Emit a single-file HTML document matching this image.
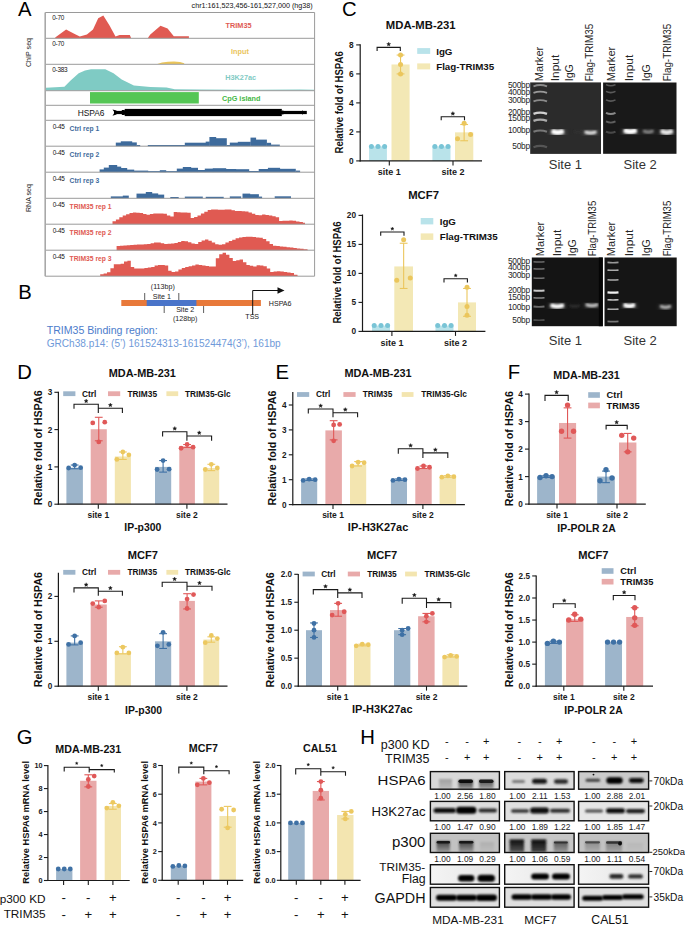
<!DOCTYPE html>
<html><head><meta charset="utf-8"><style>
html,body{margin:0;padding:0;background:#fff;}
svg{display:block;font-family:"Liberation Sans", sans-serif;}
</style></head><body>
<svg width="685" height="926" viewBox="0 0 685 926">
<defs>
<filter id="b1" x="-50%" y="-200%" width="200%" height="500%"><feGaussianBlur stdDeviation="0.8"/></filter>
<filter id="b2" x="-50%" y="-200%" width="200%" height="500%"><feGaussianBlur stdDeviation="1.3"/></filter>
<filter id="b3" x="-50%" y="-200%" width="200%" height="500%"><feGaussianBlur stdDeviation="2"/></filter>
<filter id="bs" x="-50%" y="-200%" width="200%" height="500%"><feGaussianBlur stdDeviation="0.6"/></filter>
</defs>
<polygon points="55.2,38.3 55.2,37.6 66.1,29.4 74.7,34.1 79.8,36.6 86.9,34.5 93.0,29.4 98.2,18.2 103.3,15.5 109.4,25.3 115.5,36.6 119.6,34.9 129.8,34.9 130.9,37.6 130.9,38.3" fill="#e05a52" />
<polygon points="148.2,38.3 148.2,37.6 150.3,34.5 160.5,25.7 167.6,28.4 173.8,36.2 188.9,36.2 188.9,38.3" fill="#e05a52" />
<polygon points="157.4,64.0 162.0,62.6 168.0,61.8 174.0,61.5 180.0,62.0 184.2,63.2 184.2,64.0" fill="#eac55a" />
<polygon points="46.0,90.5 46.0,87.8 64.4,86.8 70.6,80.4 78.7,73.3 85.0,70.5 91.0,69.2 105.3,69.2 113.5,73.3 121.7,79.4 133.9,85.5 150.3,87.0 166.6,87.6 174.8,89.2 200.0,89.6 240.0,89.8 300.0,89.6 314.0,89.8 314.0,90.5" fill="#7fcbc4" />
<rect x="90.00" y="92.10" width="108.80" height="11.40" fill="#55c655" />
<rect x="124.70" y="108.90" width="157.10" height="7.20" fill="#000" />
<rect x="114.00" y="110.90" width="192.80" height="3.20" fill="#000" />
<polygon points="112.5,109.4 116.5,110.6 116.5,114.4 112.5,115.8 114.6,112.5" fill="#000" />
<polygon points="121.5,110.0 124.8,110.0 124.8,115.0 121.5,115.0 123.0,112.5" fill="#000" />
<polygon points="282.5,110.0 285.5,112.5 282.5,115.0" fill="#000" />
<polygon points="302.0,110.2 305.0,112.5 302.0,114.8" fill="#000" />
<polygon points="115.8,146.2 115.8,142.6 121.2,142.6 121.2,146.2" fill="#3e6b9c" />
<polygon points="120.8,146.2 120.8,141.3 132.2,141.3 132.2,146.2" fill="#3e6b9c" />
<polygon points="131.8,146.2 131.8,142.4 136.8,142.4 136.8,146.2" fill="#3e6b9c" />
<polygon points="136.5,146.2 136.5,145.0 140.2,145.0 140.2,146.2" fill="#3e6b9c" />
<polygon points="147.8,146.2 147.8,145.1 185.1,145.1 185.1,146.2" fill="#3e6b9c" />
<polygon points="184.8,146.2 184.8,142.7 206.0,142.7 206.0,146.2" fill="#3e6b9c" />
<polygon points="205.7,146.2 205.7,141.6 209.8,141.6 209.8,146.2" fill="#3e6b9c" />
<polygon points="209.4,146.2 209.4,137.0 216.2,137.0 216.2,146.2" fill="#3e6b9c" />
<polygon points="215.8,146.2 215.8,138.2 226.8,138.2 226.8,146.2" fill="#3e6b9c" />
<polygon points="226.5,146.2 226.5,145.0 230.1,145.0 230.1,146.2" fill="#3e6b9c" />
<polygon points="229.8,146.2 229.8,142.6 238.2,142.6 238.2,146.2" fill="#3e6b9c" />
<polygon points="237.8,146.2 237.8,141.8 250.8,141.8 250.8,146.2" fill="#3e6b9c" />
<polygon points="250.5,146.2 250.5,137.6 256.1,137.6 256.1,146.2" fill="#3e6b9c" />
<polygon points="255.8,146.2 255.8,139.6 266.9,139.6 266.9,146.2" fill="#3e6b9c" />
<polygon points="266.7,146.2 266.7,142.8 271.1,142.8 271.1,146.2" fill="#3e6b9c" />
<polygon points="270.9,146.2 270.9,144.6 279.8,144.6 279.8,146.2" fill="#3e6b9c" />
<polygon points="99.6,172.2 99.6,169.4 104.2,169.4 104.2,172.2" fill="#3e6b9c" />
<polygon points="103.8,172.2 103.8,167.6 109.2,167.6 109.2,172.2" fill="#3e6b9c" />
<polygon points="108.8,172.2 108.8,165.0 117.2,165.0 117.2,172.2" fill="#3e6b9c" />
<polygon points="116.8,172.2 116.8,166.6 121.2,166.6 121.2,172.2" fill="#3e6b9c" />
<polygon points="120.8,172.2 120.8,168.0 127.2,168.0 127.2,172.2" fill="#3e6b9c" />
<polygon points="126.9,172.2 126.9,169.6 134.2,169.6 134.2,172.2" fill="#3e6b9c" />
<polygon points="133.8,172.2 133.8,170.6 148.2,170.6 148.2,172.2" fill="#3e6b9c" />
<polygon points="147.8,172.2 147.8,171.1 177.1,171.1 177.1,172.2" fill="#3e6b9c" />
<polygon points="159.8,172.2 159.8,170.2 166.2,170.2 166.2,172.2" fill="#3e6b9c" />
<polygon points="176.8,172.2 176.8,168.6 183.2,168.6 183.2,172.2" fill="#3e6b9c" />
<polygon points="182.8,172.2 182.8,167.0 191.2,167.0 191.2,172.2" fill="#3e6b9c" />
<polygon points="190.8,172.2 190.8,167.8 198.0,167.8 198.0,172.2" fill="#3e6b9c" />
<polygon points="197.7,172.2 197.7,170.0 205.2,170.0 205.2,172.2" fill="#3e6b9c" />
<polygon points="204.8,172.2 204.8,168.6 213.2,168.6 213.2,172.2" fill="#3e6b9c" />
<polygon points="212.8,172.2 212.8,168.2 226.2,168.2 226.2,172.2" fill="#3e6b9c" />
<polygon points="225.8,172.2 225.8,169.0 236.2,169.0 236.2,172.2" fill="#3e6b9c" />
<polygon points="235.8,172.2 235.8,169.2 249.2,169.2 249.2,172.2" fill="#3e6b9c" />
<polygon points="248.9,172.2 248.9,171.0 258.9,171.0 258.9,172.2" fill="#3e6b9c" />
<polygon points="258.7,172.2 258.7,169.0 268.1,169.0 268.1,172.2" fill="#3e6b9c" />
<polygon points="267.9,172.2 267.9,167.8 280.1,167.8 280.1,172.2" fill="#3e6b9c" />
<polygon points="279.9,172.2 279.9,168.8 295.8,168.8 295.8,172.2" fill="#3e6b9c" />
<polygon points="295.6,172.2 295.6,170.6 300.1,170.6 300.1,172.2" fill="#3e6b9c" />
<polygon points="110.8,198.3 110.8,196.4 123.2,196.4 123.2,198.3" fill="#3e6b9c" />
<polygon points="122.8,198.3 122.8,195.6 128.8,195.6 128.8,198.3" fill="#3e6b9c" />
<polygon points="136.5,198.3 136.5,193.6 146.2,193.6 146.2,198.3" fill="#3e6b9c" />
<polygon points="145.8,198.3 145.8,192.0 152.2,192.0 152.2,198.3" fill="#3e6b9c" />
<polygon points="151.8,198.3 151.8,193.4 158.2,193.4 158.2,198.3" fill="#3e6b9c" />
<polygon points="157.8,198.3 157.8,194.6 164.2,194.6 164.2,198.3" fill="#3e6b9c" />
<polygon points="170.3,198.3 170.3,197.0 178.7,197.0 178.7,198.3" fill="#3e6b9c" />
<polygon points="184.8,198.3 184.8,196.6 202.8,196.6 202.8,198.3" fill="#3e6b9c" />
<polygon points="205.7,198.3 205.7,196.8 223.7,196.8 223.7,198.3" fill="#3e6b9c" />
<polygon points="229.8,198.3 229.8,196.4 241.2,196.4 241.2,198.3" fill="#3e6b9c" />
<polygon points="242.5,198.3 242.5,193.6 250.2,193.6 250.2,198.3" fill="#3e6b9c" />
<polygon points="249.8,198.3 249.8,194.2 258.9,194.2 258.9,198.3" fill="#3e6b9c" />
<polygon points="258.7,198.3 258.7,196.6 262.1,196.6 262.1,198.3" fill="#3e6b9c" />
<polygon points="274.7,198.3 274.7,196.3 291.0,196.3 291.0,198.3" fill="#3e6b9c" />
<polygon points="112.5,224.2 112.5,221.3 115.9,221.3 115.9,219.4 119.3,219.4 119.3,217.3 122.7,217.3 122.7,215.6 126.1,215.6 126.1,214.2 129.5,214.2 129.5,212.9 132.9,212.9 132.9,212.4 136.3,212.4 136.3,212.7 139.7,212.7 139.7,213.1 143.1,213.1 143.1,214.0 146.5,214.0 146.5,214.8 149.9,214.8 149.9,213.9 153.3,213.9 153.3,213.4 156.7,213.4 156.7,213.4 160.1,213.4 160.1,213.4 163.5,213.4 163.5,213.7 166.9,213.7 166.9,215.4 170.3,215.4 170.3,216.5 173.7,216.5 173.7,212.1 177.1,212.1 177.1,212.3 180.5,212.3 180.5,212.4 183.9,212.4 183.9,212.6 187.3,212.6 187.3,212.8 190.7,212.8 190.7,217.9 194.1,217.9 194.1,216.9 197.5,216.9 197.5,215.4 200.9,215.4 200.9,213.4 204.3,213.4 204.3,211.7 207.7,211.7 207.7,210.0 211.1,210.0 211.1,209.4 214.5,209.4 214.5,209.6 217.9,209.6 217.9,209.8 221.3,209.8 221.3,209.8 224.7,209.8 224.7,209.5 228.1,209.5 228.1,209.6 231.5,209.6 231.5,210.3 234.9,210.3 234.9,210.9 238.3,210.9 238.3,211.0 241.7,211.0 241.7,211.2 245.1,211.2 245.1,211.4 248.5,211.4 248.5,212.6 251.9,212.6 251.9,213.8 255.3,213.8 255.3,215.1 258.7,215.1 258.7,215.3 262.1,215.3 262.1,214.5 265.5,214.5 265.5,214.9 268.9,214.9 268.9,215.4 272.3,215.4 272.3,216.3 275.7,216.3 275.7,217.3 279.1,217.3 279.1,220.9 282.5,220.9 282.5,220.8 285.9,220.8 285.9,220.7 289.3,220.7 289.3,220.6 292.7,220.6 292.7,220.7 296.1,220.7 296.1,221.4 299.5,221.4 299.5,222.1 302.9,222.1 302.9,222.8 305.0,222.8 305.0,224.2" fill="#e05a52" />
<polygon points="116.6,250.2 116.6,246.0 120.0,246.0 120.0,245.7 123.4,245.7 123.4,245.5 126.8,245.5 126.8,245.2 130.2,245.2 130.2,245.0 133.6,245.0 133.6,244.7 137.0,244.7 137.0,244.5 140.4,244.5 140.4,244.4 143.8,244.4 143.8,244.2 147.2,244.2 147.2,244.0 150.6,244.0 150.6,243.3 154.0,243.3 154.0,242.4 157.4,242.4 157.4,242.4 160.8,242.4 160.8,243.2 164.2,243.2 164.2,244.0 167.6,244.0 167.6,243.8 171.0,243.8 171.0,243.5 174.4,243.5 174.4,243.0 177.8,243.0 177.8,242.0 181.2,242.0 181.2,240.9 184.6,240.9 184.6,241.2 188.0,241.2 188.0,242.2 191.4,242.2 191.4,243.6 194.8,243.6 194.8,244.0 198.2,244.0 198.2,242.0 201.6,242.0 201.6,240.5 205.0,240.5 205.0,239.6 208.4,239.6 208.4,240.7 211.8,240.7 211.8,242.6 215.2,242.6 215.2,244.2 218.6,244.2 218.6,244.7 222.0,244.7 222.0,244.2 225.4,244.2 225.4,242.5 228.8,242.5 228.8,241.0 232.2,241.0 232.2,239.7 235.6,239.7 235.6,238.3 239.0,238.3 239.0,237.6 242.4,237.6 242.4,237.1 245.8,237.1 245.8,236.7 249.2,236.7 249.2,236.7 252.6,236.7 252.6,237.1 256.0,237.1 256.0,237.4 259.4,237.4 259.4,237.7 262.8,237.7 262.8,239.0 266.2,239.0 266.2,241.3 269.6,241.3 269.6,244.0 273.0,244.0 273.0,245.7 276.4,245.7 276.4,246.1 279.8,246.1 279.8,246.4 283.2,246.4 283.2,246.8 286.6,246.8 286.6,247.2 290.0,247.2 290.0,247.6 293.4,247.6 293.4,248.0 296.8,248.0 296.8,248.4 300.2,248.4 300.2,248.8 303.6,248.8 303.6,249.2 307.0,249.2 307.0,249.4 307.8,249.4 307.8,250.2" fill="#e05a52" />
<polygon points="100.2,276.0 100.2,274.3 103.6,274.3 103.6,273.4 107.0,273.4 107.0,272.2 110.4,272.2 110.4,268.3 113.8,268.3 113.8,264.3 117.2,264.3 117.2,264.2 120.6,264.2 120.6,263.7 124.0,263.7 124.0,261.6 127.4,261.6 127.4,260.8 130.8,260.8 130.8,267.0 134.2,267.0 134.2,268.6 137.6,268.6 137.6,268.6 141.0,268.6 141.0,268.5 144.4,268.5 144.4,268.0 147.8,268.0 147.8,267.5 151.2,267.5 151.2,266.9 154.6,266.9 154.6,265.5 158.0,265.5 158.0,264.9 161.4,264.9 161.4,264.9 164.8,264.9 164.8,265.6 168.2,265.6 168.2,270.7 171.6,270.7 171.6,272.0 175.0,272.0 175.0,271.5 178.4,271.5 178.4,269.6 181.8,269.6 181.8,268.0 185.2,268.0 185.2,267.1 188.6,267.1 188.6,266.3 192.0,266.3 192.0,265.4 195.4,265.4 195.4,264.6 198.8,264.6 198.8,265.0 202.2,265.0 202.2,265.6 205.6,265.6 205.6,266.1 209.0,266.1 209.0,266.6 212.4,266.6 212.4,266.4 215.8,266.4 215.8,258.3 219.2,258.3 219.2,254.3 222.6,254.3 222.6,252.8 226.0,252.8 226.0,254.8 229.4,254.8 229.4,258.0 232.8,258.0 232.8,261.0 236.2,261.0 236.2,260.3 239.6,260.3 239.6,259.6 243.0,259.6 243.0,262.3 246.4,262.3 246.4,264.9 249.8,264.9 249.8,265.7 253.2,265.7 253.2,266.4 256.6,266.4 256.6,265.3 260.0,265.3 260.0,265.6 263.4,265.6 263.4,266.2 266.8,266.2 266.8,268.6 270.2,268.6 270.2,271.9 273.6,271.9 273.6,271.6 277.0,271.6 277.0,271.2 280.4,271.2 280.4,271.6 283.8,271.6 283.8,272.1 287.2,272.1 287.2,272.6 290.6,272.6 290.6,273.1 294.0,273.1 294.0,274.7 297.4,274.7 297.4,275.2 297.6,275.2 297.6,276.0" fill="#e05a52" />
<line x1="45.20" y1="38.30" x2="314.60" y2="38.30" stroke="#9a9a9a" stroke-width="1" />
<line x1="45.20" y1="64.30" x2="314.60" y2="64.30" stroke="#9a9a9a" stroke-width="1" />
<line x1="45.20" y1="90.70" x2="314.60" y2="90.70" stroke="#9a9a9a" stroke-width="1" />
<line x1="45.20" y1="105.30" x2="314.60" y2="105.30" stroke="#9a9a9a" stroke-width="1" />
<line x1="45.20" y1="120.30" x2="314.60" y2="120.30" stroke="#9a9a9a" stroke-width="1" />
<line x1="45.20" y1="146.20" x2="314.60" y2="146.20" stroke="#9a9a9a" stroke-width="1" />
<line x1="45.20" y1="172.20" x2="314.60" y2="172.20" stroke="#9a9a9a" stroke-width="1" />
<line x1="45.20" y1="198.30" x2="314.60" y2="198.30" stroke="#9a9a9a" stroke-width="1" />
<line x1="45.20" y1="224.20" x2="314.60" y2="224.20" stroke="#9a9a9a" stroke-width="1" />
<line x1="45.20" y1="250.20" x2="314.60" y2="250.20" stroke="#9a9a9a" stroke-width="1" />
<line x1="45.20" y1="12.50" x2="314.60" y2="12.50" stroke="#9a9a9a" stroke-width="1" />
<line x1="45.20" y1="276.20" x2="314.60" y2="276.20" stroke="#9a9a9a" stroke-width="1" />
<line x1="45.20" y1="12.50" x2="45.20" y2="276.20" stroke="#a8a8a8" stroke-width="1.6" />
<line x1="314.60" y1="12.50" x2="314.60" y2="276.20" stroke="#9a9a9a" stroke-width="1" />
<text x="312.70" y="8.30" font-size="7.2" text-anchor="end" fill="#111" >chr1:161,523,456-161,527,000 (hg38)</text>
<text x="52.30" y="19.60" font-size="6.4" text-anchor="start" fill="#111" letter-spacing="-0.3">0-70</text>
<text x="52.30" y="45.60" font-size="6.4" text-anchor="start" fill="#111" letter-spacing="-0.3">0-70</text>
<text x="52.30" y="71.60" font-size="6.4" text-anchor="start" fill="#111" letter-spacing="-0.3">0-383</text>
<text x="52.80" y="129.40" font-size="6.4" text-anchor="start" fill="#111" letter-spacing="-0.3">0-45</text>
<text x="69.60" y="130.60" font-size="6.75" text-anchor="start" font-weight="bold" fill="#3e6b9c" >Ctrl rep 1</text>
<text x="52.80" y="155.30" font-size="6.4" text-anchor="start" fill="#111" letter-spacing="-0.3">0-45</text>
<text x="69.60" y="156.50" font-size="6.75" text-anchor="start" font-weight="bold" fill="#3e6b9c" >Ctrl rep 2</text>
<text x="52.80" y="181.30" font-size="6.4" text-anchor="start" fill="#111" letter-spacing="-0.3">0-45</text>
<text x="69.60" y="182.50" font-size="6.75" text-anchor="start" font-weight="bold" fill="#3e6b9c" >Ctrl rep 3</text>
<text x="52.80" y="207.40" font-size="6.4" text-anchor="start" fill="#111" letter-spacing="-0.3">0-45</text>
<text x="69.60" y="208.60" font-size="6.75" text-anchor="start" font-weight="bold" fill="#e05a52" >TRIM35 rep 1</text>
<text x="52.80" y="233.30" font-size="6.4" text-anchor="start" fill="#111" letter-spacing="-0.3">0-45</text>
<text x="69.60" y="234.50" font-size="6.75" text-anchor="start" font-weight="bold" fill="#e05a52" >TRIM35 rep 2</text>
<text x="52.80" y="259.30" font-size="6.4" text-anchor="start" fill="#111" letter-spacing="-0.3">0-45</text>
<text x="69.60" y="260.50" font-size="6.75" text-anchor="start" font-weight="bold" fill="#e05a52" >TRIM35 rep 3</text>
<text x="238.60" y="28.10" font-size="7.3" text-anchor="middle" font-weight="bold" fill="#e05a52" >TRIM35</text>
<text x="240.00" y="53.90" font-size="7.3" text-anchor="middle" font-weight="bold" fill="#eac55a" >Input</text>
<text x="240.70" y="79.80" font-size="7.3" text-anchor="middle" font-weight="bold" fill="#7fcbc4" >H3K27ac</text>
<text x="241.20" y="101.20" font-size="7.3" text-anchor="middle" font-weight="bold" fill="#44b844" >CpG island</text>
<text x="77.70" y="116.20" font-size="8.4" text-anchor="start" fill="#111" >HSPA6</text>
<text transform="translate(31.00,52.50) rotate(-90)" font-size="7.1" text-anchor="middle" fill="#222" >ChIP seq</text>
<text transform="translate(31.00,198.10) rotate(-90)" font-size="7.1" text-anchor="middle" fill="#222" >RNA seq</text>
<rect x="121.30" y="300.00" width="139.60" height="6.00" fill="#e8793a" />
<rect x="146.70" y="300.00" width="49.70" height="6.00" fill="#4a74c9" />
<line x1="144.70" y1="293.00" x2="144.70" y2="300.00" stroke="#333" stroke-width="0.8" />
<line x1="178.80" y1="293.00" x2="178.80" y2="300.00" stroke="#333" stroke-width="0.8" />
<line x1="164.20" y1="306.00" x2="164.20" y2="313.00" stroke="#333" stroke-width="0.8" />
<line x1="203.60" y1="306.00" x2="203.60" y2="313.00" stroke="#333" stroke-width="0.8" />
<line x1="252.70" y1="290.50" x2="252.70" y2="315.00" stroke="#111" stroke-width="1" />
<line x1="252.70" y1="290.50" x2="279.00" y2="290.50" stroke="#111" stroke-width="1" />
<polygon points="277.5,287.3 284.5,290.5 277.5,293.7" fill="#111" />
<text x="162.80" y="289.20" font-size="7.1" text-anchor="middle" fill="#222" >(113bp)</text>
<text x="161.80" y="298.50" font-size="7.1" text-anchor="middle" fill="#222" >Site 1</text>
<text x="185.20" y="312.20" font-size="7.1" text-anchor="middle" fill="#222" >Site 2</text>
<text x="185.20" y="320.80" font-size="7.1" text-anchor="middle" fill="#222" >(128bp)</text>
<text x="252.20" y="318.80" font-size="7.1" text-anchor="middle" fill="#222" >TSS</text>
<text x="268.80" y="306.00" font-size="7.1" text-anchor="start" fill="#222" >HSPA6</text>
<text x="46.70" y="334.30" font-size="11.8" text-anchor="start" fill="#4c7ccb" textLength="111" lengthAdjust="spacingAndGlyphs">TRIM35 Binding region:</text>
<text x="46.70" y="346.60" font-size="11.0" text-anchor="start" fill="#6f9ad9" textLength="234" lengthAdjust="spacingAndGlyphs">GRCh38.p14: (5’) 161524313-161524474(3’), 161bp</text>
<rect x="369.10" y="146.40" width="17.80" height="14.50" fill="#b9e3ea" />
<rect x="391.50" y="64.47" width="18.10" height="96.43" fill="#f3e8b5" />
<rect x="432.40" y="146.40" width="18.10" height="14.50" fill="#b9e3ea" />
<rect x="455.00" y="132.34" width="18.30" height="28.56" fill="#f3e8b5" />
<line x1="360.20" y1="44.20" x2="360.20" y2="161.50" stroke="#1a1a1a" stroke-width="1.2" />
<line x1="359.60" y1="160.90" x2="482.00" y2="160.90" stroke="#1a1a1a" stroke-width="1.2" />
<line x1="356.20" y1="160.90" x2="360.20" y2="160.90" stroke="#1a1a1a" stroke-width="1.1" />
<text x="353.70" y="163.89" font-size="8.3" text-anchor="end" font-weight="bold" fill="#1a1a1a" >0</text>
<line x1="356.20" y1="131.90" x2="360.20" y2="131.90" stroke="#1a1a1a" stroke-width="1.1" />
<text x="353.70" y="134.89" font-size="8.3" text-anchor="end" font-weight="bold" fill="#1a1a1a" >2</text>
<line x1="356.20" y1="102.90" x2="360.20" y2="102.90" stroke="#1a1a1a" stroke-width="1.1" />
<text x="353.70" y="105.89" font-size="8.3" text-anchor="end" font-weight="bold" fill="#1a1a1a" >4</text>
<line x1="356.20" y1="73.90" x2="360.20" y2="73.90" stroke="#1a1a1a" stroke-width="1.1" />
<text x="353.70" y="76.89" font-size="8.3" text-anchor="end" font-weight="bold" fill="#1a1a1a" >6</text>
<line x1="356.20" y1="44.90" x2="360.20" y2="44.90" stroke="#1a1a1a" stroke-width="1.1" />
<text x="353.70" y="47.89" font-size="8.3" text-anchor="end" font-weight="bold" fill="#1a1a1a" >8</text>
<line x1="389.30" y1="160.90" x2="389.30" y2="165.40" stroke="#1a1a1a" stroke-width="1.1" />
<text x="389.30" y="175.20" font-size="9" text-anchor="middle" font-weight="bold" fill="#1a1a1a" >site 1</text>
<line x1="453.00" y1="160.90" x2="453.00" y2="165.40" stroke="#1a1a1a" stroke-width="1.1" />
<text x="453.00" y="175.20" font-size="9" text-anchor="middle" font-weight="bold" fill="#1a1a1a" >site 2</text>
<circle cx="371.40" cy="146.40" r="2.5" fill="#79c4d6"/>
<circle cx="378.00" cy="146.40" r="2.5" fill="#79c4d6"/>
<circle cx="384.60" cy="146.40" r="2.5" fill="#79c4d6"/>
<line x1="400.55" y1="55.05" x2="400.55" y2="73.90" stroke="#ebc65c" stroke-width="1.1" />
<line x1="396.65" y1="55.05" x2="404.45" y2="55.05" stroke="#ebc65c" stroke-width="1.1" />
<line x1="396.65" y1="73.90" x2="404.45" y2="73.90" stroke="#ebc65c" stroke-width="1.1" />
<circle cx="400.55" cy="55.05" r="2.5" fill="#ebc65c"/>
<circle cx="400.55" cy="64.47" r="2.5" fill="#ebc65c"/>
<circle cx="400.55" cy="73.90" r="2.5" fill="#ebc65c"/>
<circle cx="434.85" cy="146.40" r="2.5" fill="#79c4d6"/>
<circle cx="441.45" cy="146.40" r="2.5" fill="#79c4d6"/>
<circle cx="448.05" cy="146.40" r="2.5" fill="#79c4d6"/>
<line x1="464.15" y1="124.51" x2="464.15" y2="140.75" stroke="#ebc65c" stroke-width="1.1" />
<line x1="460.25" y1="124.51" x2="468.05" y2="124.51" stroke="#ebc65c" stroke-width="1.1" />
<line x1="460.25" y1="140.75" x2="468.05" y2="140.75" stroke="#ebc65c" stroke-width="1.1" />
<circle cx="464.15" cy="123.20" r="2.5" fill="#ebc65c"/>
<circle cx="457.55" cy="138.86" r="2.5" fill="#ebc65c"/>
<circle cx="470.55" cy="134.51" r="2.5" fill="#ebc65c"/>
<path d="M377.10,50.90 V47.40 H400.30 V50.90" fill="none" stroke="#1a1a1a" stroke-width="1.1"/>
<polygon points="388.7,42.2 389.3,43.4 390.7,43.6 389.6,44.5 389.9,45.9 388.7,45.2 387.5,45.9 387.8,44.5 386.7,43.6 388.1,43.4" fill="#1a1a1a" stroke="#1a1a1a" stroke-width="0.35" stroke-linejoin="round"/>
<path d="M441.20,120.30 V116.80 H464.50 V120.30" fill="none" stroke="#1a1a1a" stroke-width="1.1"/>
<polygon points="452.9,111.6 453.4,112.8 454.8,113.0 453.8,113.9 454.1,115.3 452.9,114.6 451.6,115.3 451.9,113.9 450.9,113.0 452.3,112.8" fill="#1a1a1a" stroke="#1a1a1a" stroke-width="0.35" stroke-linejoin="round"/>
<text x="420.70" y="29.20" font-size="11.3" text-anchor="middle" font-weight="bold" fill="#111" >MDA-MB-231</text>
<text transform="translate(343.10,102.40) rotate(-90)" font-size="10.0" text-anchor="middle" font-weight="bold" fill="#111" textLength="102.2" lengthAdjust="spacingAndGlyphs">Relative fold of HSPA6</text>
<rect x="417.20" y="48.10" width="13.00" height="5.80" fill="#b9e3ea" />
<text x="436.20" y="54.51" font-size="9.75" text-anchor="start" font-weight="bold" fill="#111" >IgG</text>
<rect x="417.20" y="63.40" width="13.00" height="6.00" fill="#f3e8b5" />
<text x="436.20" y="69.91" font-size="9.75" text-anchor="start" font-weight="bold" fill="#111" >Flag-TRIM35</text>
<rect x="372.00" y="325.60" width="18.00" height="5.80" fill="#b9e3ea" />
<rect x="394.30" y="266.44" width="18.70" height="64.96" fill="#f3e8b5" />
<rect x="435.50" y="325.60" width="18.00" height="5.80" fill="#b9e3ea" />
<rect x="458.00" y="302.40" width="18.00" height="29.00" fill="#f3e8b5" />
<line x1="362.50" y1="214.50" x2="362.50" y2="332.00" stroke="#1a1a1a" stroke-width="1.2" />
<line x1="361.90" y1="331.40" x2="485.40" y2="331.40" stroke="#1a1a1a" stroke-width="1.2" />
<line x1="358.50" y1="331.40" x2="362.50" y2="331.40" stroke="#1a1a1a" stroke-width="1.1" />
<text x="356.00" y="334.39" font-size="8.3" text-anchor="end" font-weight="bold" fill="#1a1a1a" >0</text>
<line x1="358.50" y1="302.40" x2="362.50" y2="302.40" stroke="#1a1a1a" stroke-width="1.1" />
<text x="356.00" y="305.39" font-size="8.3" text-anchor="end" font-weight="bold" fill="#1a1a1a" >5</text>
<line x1="358.50" y1="273.40" x2="362.50" y2="273.40" stroke="#1a1a1a" stroke-width="1.1" />
<text x="356.00" y="276.39" font-size="8.3" text-anchor="end" font-weight="bold" fill="#1a1a1a" >10</text>
<line x1="358.50" y1="244.40" x2="362.50" y2="244.40" stroke="#1a1a1a" stroke-width="1.1" />
<text x="356.00" y="247.39" font-size="8.3" text-anchor="end" font-weight="bold" fill="#1a1a1a" >15</text>
<line x1="358.50" y1="215.40" x2="362.50" y2="215.40" stroke="#1a1a1a" stroke-width="1.1" />
<text x="356.00" y="218.39" font-size="8.3" text-anchor="end" font-weight="bold" fill="#1a1a1a" >20</text>
<line x1="391.90" y1="331.40" x2="391.90" y2="335.90" stroke="#1a1a1a" stroke-width="1.1" />
<text x="391.90" y="346.20" font-size="9" text-anchor="middle" font-weight="bold" fill="#1a1a1a" >site 1</text>
<line x1="455.50" y1="331.40" x2="455.50" y2="335.90" stroke="#1a1a1a" stroke-width="1.1" />
<text x="455.50" y="346.20" font-size="9" text-anchor="middle" font-weight="bold" fill="#1a1a1a" >site 2</text>
<circle cx="374.20" cy="325.60" r="2.5" fill="#79c4d6"/>
<circle cx="381.00" cy="325.60" r="2.5" fill="#79c4d6"/>
<circle cx="387.60" cy="325.60" r="2.5" fill="#79c4d6"/>
<line x1="403.65" y1="243.24" x2="403.65" y2="288.48" stroke="#ebc65c" stroke-width="1.1" />
<line x1="399.75" y1="243.24" x2="407.55" y2="243.24" stroke="#ebc65c" stroke-width="1.1" />
<line x1="399.75" y1="288.48" x2="407.55" y2="288.48" stroke="#ebc65c" stroke-width="1.1" />
<circle cx="403.65" cy="239.76" r="2.5" fill="#ebc65c"/>
<circle cx="396.75" cy="280.36" r="2.5" fill="#ebc65c"/>
<circle cx="410.25" cy="278.04" r="2.5" fill="#ebc65c"/>
<circle cx="437.70" cy="325.60" r="2.5" fill="#79c4d6"/>
<circle cx="444.50" cy="325.60" r="2.5" fill="#79c4d6"/>
<circle cx="451.10" cy="325.60" r="2.5" fill="#79c4d6"/>
<line x1="467.00" y1="288.48" x2="467.00" y2="316.32" stroke="#ebc65c" stroke-width="1.1" />
<line x1="463.10" y1="288.48" x2="470.90" y2="288.48" stroke="#ebc65c" stroke-width="1.1" />
<line x1="463.10" y1="316.32" x2="470.90" y2="316.32" stroke="#ebc65c" stroke-width="1.1" />
<circle cx="467.00" cy="287.32" r="2.5" fill="#ebc65c"/>
<circle cx="467.00" cy="306.46" r="2.5" fill="#ebc65c"/>
<circle cx="467.00" cy="315.16" r="2.5" fill="#ebc65c"/>
<path d="M380.70,235.80 V232.00 H404.00 V235.80" fill="none" stroke="#1a1a1a" stroke-width="1.1"/>
<polygon points="392.4,227.1 392.8,228.1 394.0,228.2 393.1,229.0 393.4,230.2 392.4,229.6 391.3,230.2 391.6,229.0 390.7,228.2 391.9,228.1" fill="#1a1a1a" stroke="#1a1a1a" stroke-width="0.35" stroke-linejoin="round"/>
<path d="M444.00,282.50 V278.70 H467.40 V282.50" fill="none" stroke="#1a1a1a" stroke-width="1.1"/>
<polygon points="455.7,273.8 456.2,274.8 457.3,274.9 456.5,275.7 456.7,276.9 455.7,276.3 454.7,276.9 454.9,275.7 454.1,274.9 455.2,274.8" fill="#1a1a1a" stroke="#1a1a1a" stroke-width="0.35" stroke-linejoin="round"/>
<text x="423.60" y="199.20" font-size="11.3" text-anchor="middle" font-weight="bold" fill="#111" >MCF7</text>
<text transform="translate(340.80,272.50) rotate(-90)" font-size="10.0" text-anchor="middle" font-weight="bold" fill="#111" textLength="102.2" lengthAdjust="spacingAndGlyphs">Relative fold of HSPA6</text>
<rect x="420.70" y="218.00" width="12.60" height="6.40" fill="#b9e3ea" />
<text x="439.70" y="224.71" font-size="9.75" text-anchor="start" font-weight="bold" fill="#111" >IgG</text>
<rect x="420.70" y="233.40" width="12.60" height="6.50" fill="#f3e8b5" />
<text x="439.70" y="240.16" font-size="9.75" text-anchor="start" font-weight="bold" fill="#111" >Flag-TRIM35</text>
<rect x="530.20" y="82.40" width="70.80" height="71.50" fill="#2b2b2b" />
<path d="M533.5,86.3 Q540.2,83.7 547.0,86.3" stroke="#8a8a8a" stroke-width="1.8" stroke-linecap="butt" fill="none" opacity="1" filter="url(#bs)"/>
<path d="M533.5,92.9 Q540.2,90.3 547.0,92.9" stroke="#9a9a9a" stroke-width="1.8" stroke-linecap="butt" fill="none" opacity="1" filter="url(#bs)"/>
<path d="M533.5,101.4 Q540.2,98.8 547.0,101.4" stroke="#8a8a8a" stroke-width="1.8" stroke-linecap="butt" fill="none" opacity="1" filter="url(#bs)"/>
<path d="M533.5,113.9 Q540.2,111.3 547.0,113.9" stroke="#d0d0d0" stroke-width="2.4" stroke-linecap="butt" fill="none" opacity="1" filter="url(#bs)"/>
<path d="M533.5,120.9 Q540.2,118.3 547.0,120.9" stroke="#aaaaaa" stroke-width="2.2" stroke-linecap="butt" fill="none" opacity="1" filter="url(#bs)"/>
<path d="M533.5,131.8 Q540.2,129.2 547.0,131.8" stroke="#777" stroke-width="2.2" stroke-linecap="butt" fill="none" opacity="1" filter="url(#bs)"/>
<path d="M533.5,147.2 Q540.2,144.6 547.0,147.2" stroke="#555" stroke-width="2.2" stroke-linecap="butt" fill="none" opacity="1" filter="url(#bs)"/>
<path d="M550.8,131.4 Q557.6,133.8 564.5,131.4" stroke="#ffffff" stroke-width="7.5" stroke-linecap="butt" fill="none" opacity="0.25" filter="url(#b3)"/>
<path d="M553.8,131.7 Q557.6,133.5 561.5,131.7" stroke="#ffffff" stroke-width="5" stroke-linecap="round" fill="none" opacity="1" filter="url(#b1)"/>
<path d="M583.8,131.8 Q590.5,134.2 597.3,131.8" stroke="#e8e8e8" stroke-width="5.3" stroke-linecap="butt" fill="none" opacity="0.25" filter="url(#b3)"/>
<path d="M585.7,132.1 Q590.5,133.9 595.4,132.1" stroke="#e8e8e8" stroke-width="2.8" stroke-linecap="round" fill="none" opacity="1" filter="url(#b1)"/>
<path d="M573.5,130.8 Q578.0,133.2 582.5,130.8" stroke="#333" stroke-width="4.0" stroke-linecap="butt" fill="none" opacity="0.25" filter="url(#b3)"/>
<path d="M574.8,131.1 Q578.0,132.9 581.2,131.1" stroke="#333" stroke-width="1.5" stroke-linecap="round" fill="none" opacity="1" filter="url(#b1)"/>
<rect x="603.10" y="82.50" width="73.40" height="71.30" fill="#191919" />
<path d="M606.0,84.6 Q610.8,87.0 615.5,84.6" stroke="#5a5a5a" stroke-width="1.6" stroke-linecap="butt" fill="none" opacity="1" filter="url(#bs)"/>
<path d="M606.0,91.4 Q610.8,93.8 615.5,91.4" stroke="#5a5a5a" stroke-width="1.6" stroke-linecap="butt" fill="none" opacity="1" filter="url(#bs)"/>
<path d="M606.0,99.9 Q610.8,102.3 615.5,99.9" stroke="#5a5a5a" stroke-width="1.6" stroke-linecap="butt" fill="none" opacity="1" filter="url(#bs)"/>
<path d="M606.0,112.8 Q610.8,115.2 615.5,112.8" stroke="#888" stroke-width="2" stroke-linecap="butt" fill="none" opacity="1" filter="url(#bs)"/>
<path d="M606.0,121.4 Q610.8,123.8 615.5,121.4" stroke="#5e5e5e" stroke-width="1.8" stroke-linecap="butt" fill="none" opacity="1" filter="url(#bs)"/>
<path d="M606.0,131.6 Q610.8,134.0 615.5,131.6" stroke="#4a4a4a" stroke-width="2" stroke-linecap="butt" fill="none" opacity="1" filter="url(#bs)"/>
<path d="M623.0,130.6 Q630.2,133.0 637.5,130.6" stroke="#ffffff" stroke-width="7.5" stroke-linecap="butt" fill="none" opacity="0.25" filter="url(#b3)"/>
<path d="M626.0,130.9 Q630.2,132.7 634.5,130.9" stroke="#ffffff" stroke-width="5" stroke-linecap="round" fill="none" opacity="1" filter="url(#b1)"/>
<path d="M642.3,131.0 Q648.3,133.4 654.3,131.0" stroke="#8a8a8a" stroke-width="5.3" stroke-linecap="butt" fill="none" opacity="0.25" filter="url(#b3)"/>
<path d="M644.2,131.3 Q648.3,133.1 652.4,131.3" stroke="#8a8a8a" stroke-width="2.8" stroke-linecap="round" fill="none" opacity="1" filter="url(#b1)"/>
<path d="M659.8,131.4 Q666.8,133.8 673.7,131.4" stroke="#e8e8e8" stroke-width="7.1" stroke-linecap="butt" fill="none" opacity="0.25" filter="url(#b3)"/>
<path d="M662.6,131.7 Q666.8,133.5 670.9,131.7" stroke="#e8e8e8" stroke-width="4.6" stroke-linecap="round" fill="none" opacity="1" filter="url(#b1)"/>
<rect x="531.80" y="257.50" width="71.00" height="68.70" fill="#141414" />
<path d="M533.5,261.8 Q539.0,262.4 544.5,261.8" stroke="#6a6a6a" stroke-width="1.5" stroke-linecap="butt" fill="none" opacity="1" filter="url(#bs)"/>
<path d="M533.5,268.7 Q539.0,269.3 544.5,268.7" stroke="#707070" stroke-width="1.5" stroke-linecap="butt" fill="none" opacity="1" filter="url(#bs)"/>
<path d="M533.5,278.0 Q539.0,278.6 544.5,278.0" stroke="#707070" stroke-width="1.5" stroke-linecap="butt" fill="none" opacity="1" filter="url(#bs)"/>
<path d="M533.5,290.4 Q539.0,291.0 544.5,290.4" stroke="#c8c8c8" stroke-width="2" stroke-linecap="butt" fill="none" opacity="1" filter="url(#bs)"/>
<path d="M533.5,297.7 Q539.0,298.3 544.5,297.7" stroke="#888" stroke-width="1.6" stroke-linecap="butt" fill="none" opacity="1" filter="url(#bs)"/>
<path d="M533.5,306.5 Q539.0,307.1 544.5,306.5" stroke="#6a6a6a" stroke-width="1.8" stroke-linecap="butt" fill="none" opacity="1" filter="url(#bs)"/>
<path d="M533.5,320.0 Q539.0,320.6 544.5,320.0" stroke="#4a4a4a" stroke-width="1.8" stroke-linecap="butt" fill="none" opacity="1" filter="url(#bs)"/>
<path d="M549.7,305.3 Q557.2,307.7 564.7,305.3" stroke="#ffffff" stroke-width="6.7" stroke-linecap="butt" fill="none" opacity="0.25" filter="url(#b3)"/>
<path d="M552.3,305.6 Q557.2,307.4 562.1,305.6" stroke="#ffffff" stroke-width="4.2" stroke-linecap="round" fill="none" opacity="1" filter="url(#b1)"/>
<path d="M569.0,305.3 Q574.8,307.7 580.5,305.3" stroke="#3a3a3a" stroke-width="4.0" stroke-linecap="butt" fill="none" opacity="0.25" filter="url(#b3)"/>
<path d="M570.2,305.6 Q574.8,307.4 579.2,305.6" stroke="#3a3a3a" stroke-width="1.5" stroke-linecap="round" fill="none" opacity="1" filter="url(#b1)"/>
<path d="M584.9,304.6 Q591.9,307.0 598.9,304.6" stroke="#c8c8c8" stroke-width="5.5" stroke-linecap="butt" fill="none" opacity="0.25" filter="url(#b3)"/>
<path d="M586.9,304.9 Q591.9,306.7 596.9,304.9" stroke="#c8c8c8" stroke-width="3" stroke-linecap="round" fill="none" opacity="1" filter="url(#b1)"/>
<rect x="598.80" y="257.50" width="4.00" height="68.70" fill="#050505" />
<rect x="604.50" y="257.50" width="72.20" height="68.70" fill="#151515" />
<path d="M607.5,262.4 Q613.0,263.0 618.5,262.4" stroke="#999" stroke-width="1.6" stroke-linecap="butt" fill="none" opacity="1" filter="url(#bs)"/>
<path d="M607.5,270.1 Q613.0,270.7 618.5,270.1" stroke="#aaa" stroke-width="1.6" stroke-linecap="butt" fill="none" opacity="1" filter="url(#bs)"/>
<path d="M607.5,279.7 Q613.0,280.3 618.5,279.7" stroke="#aaa" stroke-width="1.6" stroke-linecap="butt" fill="none" opacity="1" filter="url(#bs)"/>
<path d="M607.5,292.4 Q613.0,293.0 618.5,292.4" stroke="#f0f0f0" stroke-width="2.3" stroke-linecap="butt" fill="none" opacity="1" filter="url(#bs)"/>
<path d="M607.5,299.7 Q613.0,300.3 618.5,299.7" stroke="#bbb" stroke-width="1.7" stroke-linecap="butt" fill="none" opacity="1" filter="url(#bs)"/>
<path d="M607.5,309.1 Q613.0,309.7 618.5,309.1" stroke="#aaa" stroke-width="1.8" stroke-linecap="butt" fill="none" opacity="1" filter="url(#bs)"/>
<path d="M607.5,321.3 Q613.0,321.9 618.5,321.3" stroke="#777" stroke-width="1.8" stroke-linecap="butt" fill="none" opacity="1" filter="url(#bs)"/>
<path d="M622.8,305.0 Q629.3,307.4 635.8,305.0" stroke="#ffffff" stroke-width="6.7" stroke-linecap="butt" fill="none" opacity="0.25" filter="url(#b3)"/>
<path d="M625.4,305.3 Q629.3,307.1 633.2,305.3" stroke="#ffffff" stroke-width="4.2" stroke-linecap="round" fill="none" opacity="1" filter="url(#b1)"/>
<path d="M659.3,306.2 Q665.5,308.6 671.7,306.2" stroke="#bbbbbb" stroke-width="5.3" stroke-linecap="butt" fill="none" opacity="0.25" filter="url(#b3)"/>
<path d="M661.2,306.5 Q665.5,308.3 669.8,306.5" stroke="#bbbbbb" stroke-width="2.8" stroke-linecap="round" fill="none" opacity="1" filter="url(#b1)"/>
<text transform="translate(543.30,81.30) rotate(-90)" font-size="11" text-anchor="start" fill="#262626" textLength="34.6" lengthAdjust="spacingAndGlyphs">Marker</text>
<text transform="translate(558.80,81.30) rotate(-90)" font-size="11" text-anchor="start" fill="#262626" textLength="26.5" lengthAdjust="spacingAndGlyphs">Input</text>
<text transform="translate(573.30,81.30) rotate(-90)" font-size="11" text-anchor="start" fill="#262626" textLength="17" lengthAdjust="spacingAndGlyphs">IgG</text>
<text transform="translate(593.30,81.30) rotate(-90)" font-size="11" text-anchor="start" fill="#262626" textLength="57.5" lengthAdjust="spacingAndGlyphs">Flag-TRIM35</text>
<text transform="translate(615.40,81.30) rotate(-90)" font-size="11" text-anchor="start" fill="#262626" textLength="34.6" lengthAdjust="spacingAndGlyphs">Marker</text>
<text transform="translate(632.60,81.30) rotate(-90)" font-size="11" text-anchor="start" fill="#262626" textLength="26.5" lengthAdjust="spacingAndGlyphs">Input</text>
<text transform="translate(650.00,81.30) rotate(-90)" font-size="11" text-anchor="start" fill="#262626" textLength="17" lengthAdjust="spacingAndGlyphs">IgG</text>
<text transform="translate(671.40,81.30) rotate(-90)" font-size="11" text-anchor="start" fill="#262626" textLength="57.5" lengthAdjust="spacingAndGlyphs">Flag-TRIM35</text>
<text transform="translate(543.60,256.30) rotate(-90)" font-size="11" text-anchor="start" fill="#262626" textLength="34.6" lengthAdjust="spacingAndGlyphs">Marker</text>
<text transform="translate(560.60,256.30) rotate(-90)" font-size="11" text-anchor="start" fill="#262626" textLength="26.5" lengthAdjust="spacingAndGlyphs">Input</text>
<text transform="translate(575.60,256.30) rotate(-90)" font-size="11" text-anchor="start" fill="#262626" textLength="17" lengthAdjust="spacingAndGlyphs">IgG</text>
<text transform="translate(595.60,256.30) rotate(-90)" font-size="11" text-anchor="start" fill="#262626" textLength="55.5" lengthAdjust="spacingAndGlyphs">Flag-TRIM35</text>
<text transform="translate(615.40,256.30) rotate(-90)" font-size="11" text-anchor="start" fill="#262626" textLength="34.6" lengthAdjust="spacingAndGlyphs">Marker</text>
<text transform="translate(632.60,256.30) rotate(-90)" font-size="11" text-anchor="start" fill="#262626" textLength="26.5" lengthAdjust="spacingAndGlyphs">Input</text>
<text transform="translate(650.00,256.30) rotate(-90)" font-size="11" text-anchor="start" fill="#262626" textLength="17" lengthAdjust="spacingAndGlyphs">IgG</text>
<text transform="translate(671.40,256.30) rotate(-90)" font-size="11" text-anchor="start" fill="#262626" textLength="55.5" lengthAdjust="spacingAndGlyphs">Flag-TRIM35</text>
<text x="529.80" y="88.20" font-size="8.4" text-anchor="end" fill="#262626" letter-spacing="-0.3">500bp</text>
<text x="529.80" y="94.90" font-size="8.4" text-anchor="end" fill="#262626" letter-spacing="-0.3">400bp</text>
<text x="529.80" y="102.50" font-size="8.4" text-anchor="end" fill="#262626" letter-spacing="-0.3">300bp</text>
<text x="529.80" y="114.60" font-size="8.4" text-anchor="end" fill="#262626" letter-spacing="-0.3">200bp</text>
<text x="529.80" y="121.40" font-size="8.4" text-anchor="end" fill="#262626" letter-spacing="-0.3">150bp</text>
<text x="529.80" y="133.10" font-size="8.4" text-anchor="end" fill="#262626" letter-spacing="-0.3">100bp</text>
<text x="529.80" y="148.70" font-size="8.4" text-anchor="end" fill="#262626" letter-spacing="-0.3">50bp</text>
<text x="529.80" y="264.10" font-size="8.4" text-anchor="end" fill="#262626" letter-spacing="-0.3">500bp</text>
<text x="529.80" y="270.30" font-size="8.4" text-anchor="end" fill="#262626" letter-spacing="-0.3">400bp</text>
<text x="529.80" y="278.30" font-size="8.4" text-anchor="end" fill="#262626" letter-spacing="-0.3">300bp</text>
<text x="529.80" y="292.50" font-size="8.4" text-anchor="end" fill="#262626" letter-spacing="-0.3">200bp</text>
<text x="529.80" y="300.20" font-size="8.4" text-anchor="end" fill="#262626" letter-spacing="-0.3">150bp</text>
<text x="529.80" y="309.60" font-size="8.4" text-anchor="end" fill="#262626" letter-spacing="-0.3">100bp</text>
<text x="529.80" y="323.30" font-size="8.4" text-anchor="end" fill="#262626" letter-spacing="-0.3">50bp</text>
<text x="565.40" y="168.60" font-size="13" text-anchor="middle" fill="#333" >Site 1</text>
<text x="640.10" y="168.60" font-size="13" text-anchor="middle" fill="#333" >Site 2</text>
<text x="565.40" y="345.10" font-size="13" text-anchor="middle" fill="#333" >Site 1</text>
<text x="640.10" y="345.10" font-size="13" text-anchor="middle" fill="#333" >Site 2</text>
<rect x="66.40" y="467.65" width="16.50" height="36.55" fill="#9db5cb" />
<rect x="90.70" y="429.23" width="16.10" height="74.97" fill="#e8aaaa" />
<rect x="114.80" y="456.46" width="16.10" height="47.74" fill="#f3e5b0" />
<rect x="155.00" y="466.90" width="16.20" height="37.30" fill="#9db5cb" />
<rect x="179.30" y="446.38" width="15.60" height="57.81" fill="#e8aaaa" />
<rect x="203.40" y="468.02" width="15.80" height="36.18" fill="#f3e5b0" />
<line x1="58.40" y1="391.80" x2="58.40" y2="504.80" stroke="#1a1a1a" stroke-width="1.2" />
<line x1="57.80" y1="504.20" x2="227.50" y2="504.20" stroke="#1a1a1a" stroke-width="1.2" />
<line x1="54.40" y1="504.20" x2="58.40" y2="504.20" stroke="#1a1a1a" stroke-width="1.1" />
<text x="52.20" y="507.15" font-size="8.2" text-anchor="end" font-weight="bold" fill="#1a1a1a" >0</text>
<line x1="54.40" y1="466.90" x2="58.40" y2="466.90" stroke="#1a1a1a" stroke-width="1.1" />
<text x="52.20" y="469.85" font-size="8.2" text-anchor="end" font-weight="bold" fill="#1a1a1a" >1</text>
<line x1="54.40" y1="429.60" x2="58.40" y2="429.60" stroke="#1a1a1a" stroke-width="1.1" />
<text x="52.20" y="432.55" font-size="8.2" text-anchor="end" font-weight="bold" fill="#1a1a1a" >2</text>
<line x1="54.40" y1="392.30" x2="58.40" y2="392.30" stroke="#1a1a1a" stroke-width="1.1" />
<text x="52.20" y="395.25" font-size="8.2" text-anchor="end" font-weight="bold" fill="#1a1a1a" >3</text>
<line x1="98.30" y1="504.20" x2="98.30" y2="508.70" stroke="#1a1a1a" stroke-width="1.1" />
<text x="98.30" y="518.00" font-size="8.5" text-anchor="middle" font-weight="bold" fill="#1a1a1a" >site 1</text>
<line x1="186.90" y1="504.20" x2="186.90" y2="508.70" stroke="#1a1a1a" stroke-width="1.1" />
<text x="186.90" y="518.00" font-size="8.5" text-anchor="middle" font-weight="bold" fill="#1a1a1a" >site 2</text>
<line x1="74.65" y1="465.03" x2="74.65" y2="468.76" stroke="#3f71a5" stroke-width="1.1" />
<line x1="70.75" y1="465.03" x2="78.55" y2="465.03" stroke="#3f71a5" stroke-width="1.1" />
<line x1="70.75" y1="468.76" x2="78.55" y2="468.76" stroke="#3f71a5" stroke-width="1.1" />
<circle cx="68.65" cy="468.02" r="2.4" fill="#3f71a5"/>
<circle cx="74.65" cy="465.03" r="2.4" fill="#3f71a5"/>
<circle cx="80.65" cy="467.65" r="2.4" fill="#3f71a5"/>
<line x1="98.75" y1="417.29" x2="98.75" y2="440.79" stroke="#e05858" stroke-width="1.1" />
<line x1="94.85" y1="417.29" x2="102.65" y2="417.29" stroke="#e05858" stroke-width="1.1" />
<line x1="94.85" y1="440.79" x2="102.65" y2="440.79" stroke="#e05858" stroke-width="1.1" />
<circle cx="92.75" cy="422.89" r="2.4" fill="#e05858"/>
<circle cx="98.75" cy="441.91" r="2.4" fill="#e05858"/>
<circle cx="104.75" cy="422.14" r="2.4" fill="#e05858"/>
<line x1="122.85" y1="451.98" x2="122.85" y2="459.44" stroke="#ecc860" stroke-width="1.1" />
<line x1="118.95" y1="451.98" x2="126.75" y2="451.98" stroke="#ecc860" stroke-width="1.1" />
<line x1="118.95" y1="459.44" x2="126.75" y2="459.44" stroke="#ecc860" stroke-width="1.1" />
<circle cx="116.85" cy="459.44" r="2.4" fill="#ecc860"/>
<circle cx="122.85" cy="451.98" r="2.4" fill="#ecc860"/>
<circle cx="128.85" cy="454.96" r="2.4" fill="#ecc860"/>
<line x1="163.10" y1="460.56" x2="163.10" y2="472.12" stroke="#3f71a5" stroke-width="1.1" />
<line x1="159.20" y1="460.56" x2="167.00" y2="460.56" stroke="#3f71a5" stroke-width="1.1" />
<line x1="159.20" y1="472.12" x2="167.00" y2="472.12" stroke="#3f71a5" stroke-width="1.1" />
<circle cx="157.10" cy="469.51" r="2.4" fill="#3f71a5"/>
<circle cx="163.10" cy="460.56" r="2.4" fill="#3f71a5"/>
<circle cx="169.10" cy="469.14" r="2.4" fill="#3f71a5"/>
<line x1="187.10" y1="444.52" x2="187.10" y2="447.50" stroke="#e05858" stroke-width="1.1" />
<line x1="183.20" y1="444.52" x2="191.00" y2="444.52" stroke="#e05858" stroke-width="1.1" />
<line x1="183.20" y1="447.50" x2="191.00" y2="447.50" stroke="#e05858" stroke-width="1.1" />
<circle cx="181.10" cy="448.25" r="2.4" fill="#e05858"/>
<circle cx="187.10" cy="444.52" r="2.4" fill="#e05858"/>
<circle cx="193.10" cy="447.13" r="2.4" fill="#e05858"/>
<line x1="211.30" y1="464.29" x2="211.30" y2="470.63" stroke="#ecc860" stroke-width="1.1" />
<line x1="207.40" y1="464.29" x2="215.20" y2="464.29" stroke="#ecc860" stroke-width="1.1" />
<line x1="207.40" y1="470.63" x2="215.20" y2="470.63" stroke="#ecc860" stroke-width="1.1" />
<circle cx="205.30" cy="469.51" r="2.4" fill="#ecc860"/>
<circle cx="211.30" cy="464.29" r="2.4" fill="#ecc860"/>
<circle cx="217.30" cy="468.02" r="2.4" fill="#ecc860"/>
<path d="M74.00,408.80 V404.20 H98.30 V412.90 M98.30,408.30 H122.40 V412.90" fill="none" stroke="#1a1a1a" stroke-width="1.1"/>
<polygon points="86.2,399.0 86.7,400.2 88.1,400.4 87.1,401.3 87.4,402.7 86.2,402.0 84.9,402.7 85.2,401.3 84.2,400.4 85.6,400.2" fill="#1a1a1a" stroke="#1a1a1a" stroke-width="0.35" stroke-linejoin="round"/>
<polygon points="110.3,403.1 110.9,404.3 112.3,404.5 111.3,405.4 111.6,406.8 110.3,406.1 109.1,406.8 109.4,405.4 108.4,404.5 109.8,404.3" fill="#1a1a1a" stroke="#1a1a1a" stroke-width="0.35" stroke-linejoin="round"/>
<path d="M162.60,436.40 V431.70 H186.90 V440.70 M186.90,436.00 H211.60 V440.70" fill="none" stroke="#1a1a1a" stroke-width="1.1"/>
<polygon points="174.8,426.5 175.3,427.7 176.7,427.9 175.7,428.8 176.0,430.2 174.8,429.5 173.5,430.2 173.8,428.8 172.8,427.9 174.2,427.7" fill="#1a1a1a" stroke="#1a1a1a" stroke-width="0.35" stroke-linejoin="round"/>
<polygon points="199.2,430.8 199.8,432.0 201.2,432.2 200.2,433.1 200.5,434.5 199.2,433.8 198.0,434.5 198.3,433.1 197.3,432.2 198.7,432.0" fill="#1a1a1a" stroke="#1a1a1a" stroke-width="0.35" stroke-linejoin="round"/>
<text x="142.30" y="376.70" font-size="10.9" text-anchor="middle" font-weight="bold" fill="#111" >MDA-MB-231</text>
<text transform="translate(42.10,447.80) rotate(-90)" font-size="10.75" text-anchor="middle" font-weight="bold" fill="#111" >Relative fold of HSPA6</text>
<text x="142.80" y="531.20" font-size="10.4" text-anchor="middle" font-weight="bold" fill="#111" >IP-p300</text>
<rect x="63.20" y="391.30" width="12.20" height="4.80" fill="#9db5cb" />
<text x="82.00" y="396.69" font-size="8.3" text-anchor="start" font-weight="bold" fill="#111" >Ctrl</text>
<rect x="108.00" y="391.30" width="12.20" height="4.80" fill="#e8aaaa" />
<text x="127.50" y="396.69" font-size="8.3" text-anchor="start" font-weight="bold" fill="#111" >TRIM35</text>
<rect x="166.40" y="391.30" width="11.80" height="4.80" fill="#f3e5b0" />
<text x="185.00" y="396.69" font-size="8.3" text-anchor="start" font-weight="bold" fill="#111" >TRIM35-Glc</text>
<rect x="66.40" y="642.65" width="16.50" height="43.55" fill="#9db5cb" />
<rect x="90.70" y="604.48" width="16.10" height="81.72" fill="#e8aaaa" />
<rect x="114.80" y="652.97" width="16.10" height="33.23" fill="#f3e5b0" />
<rect x="155.00" y="641.30" width="16.20" height="44.90" fill="#9db5cb" />
<rect x="179.30" y="600.89" width="15.60" height="85.31" fill="#e8aaaa" />
<rect x="203.40" y="639.50" width="15.80" height="46.70" fill="#f3e5b0" />
<line x1="58.40" y1="572.80" x2="58.40" y2="686.80" stroke="#1a1a1a" stroke-width="1.2" />
<line x1="57.80" y1="686.20" x2="227.50" y2="686.20" stroke="#1a1a1a" stroke-width="1.2" />
<line x1="54.40" y1="686.20" x2="58.40" y2="686.20" stroke="#1a1a1a" stroke-width="1.1" />
<text x="52.20" y="689.15" font-size="8.2" text-anchor="end" font-weight="bold" fill="#1a1a1a" >0</text>
<line x1="54.40" y1="641.30" x2="58.40" y2="641.30" stroke="#1a1a1a" stroke-width="1.1" />
<text x="52.20" y="644.25" font-size="8.2" text-anchor="end" font-weight="bold" fill="#1a1a1a" >1</text>
<line x1="54.40" y1="596.40" x2="58.40" y2="596.40" stroke="#1a1a1a" stroke-width="1.1" />
<text x="52.20" y="599.35" font-size="8.2" text-anchor="end" font-weight="bold" fill="#1a1a1a" >2</text>
<line x1="98.30" y1="686.20" x2="98.30" y2="690.70" stroke="#1a1a1a" stroke-width="1.1" />
<text x="98.30" y="700.00" font-size="8.5" text-anchor="middle" font-weight="bold" fill="#1a1a1a" >site 1</text>
<line x1="186.90" y1="686.20" x2="186.90" y2="690.70" stroke="#1a1a1a" stroke-width="1.1" />
<text x="186.90" y="700.00" font-size="8.5" text-anchor="middle" font-weight="bold" fill="#1a1a1a" >site 2</text>
<line x1="74.65" y1="635.91" x2="74.65" y2="644.89" stroke="#3f71a5" stroke-width="1.1" />
<line x1="70.75" y1="635.91" x2="78.55" y2="635.91" stroke="#3f71a5" stroke-width="1.1" />
<line x1="70.75" y1="644.89" x2="78.55" y2="644.89" stroke="#3f71a5" stroke-width="1.1" />
<circle cx="68.65" cy="644.44" r="2.4" fill="#3f71a5"/>
<circle cx="74.65" cy="635.91" r="2.4" fill="#3f71a5"/>
<circle cx="80.65" cy="642.65" r="2.4" fill="#3f71a5"/>
<line x1="98.75" y1="600.89" x2="98.75" y2="607.18" stroke="#e05858" stroke-width="1.1" />
<line x1="94.85" y1="600.89" x2="102.65" y2="600.89" stroke="#e05858" stroke-width="1.1" />
<line x1="94.85" y1="607.18" x2="102.65" y2="607.18" stroke="#e05858" stroke-width="1.1" />
<circle cx="92.75" cy="603.58" r="2.4" fill="#e05858"/>
<circle cx="98.75" cy="607.18" r="2.4" fill="#e05858"/>
<circle cx="104.75" cy="600.89" r="2.4" fill="#e05858"/>
<line x1="122.85" y1="646.69" x2="122.85" y2="653.87" stroke="#ecc860" stroke-width="1.1" />
<line x1="118.95" y1="646.69" x2="126.75" y2="646.69" stroke="#ecc860" stroke-width="1.1" />
<line x1="118.95" y1="653.87" x2="126.75" y2="653.87" stroke="#ecc860" stroke-width="1.1" />
<circle cx="116.85" cy="652.97" r="2.4" fill="#ecc860"/>
<circle cx="122.85" cy="647.14" r="2.4" fill="#ecc860"/>
<circle cx="128.85" cy="652.97" r="2.4" fill="#ecc860"/>
<line x1="163.10" y1="633.67" x2="163.10" y2="648.48" stroke="#3f71a5" stroke-width="1.1" />
<line x1="159.20" y1="633.67" x2="167.00" y2="633.67" stroke="#3f71a5" stroke-width="1.1" />
<line x1="159.20" y1="648.48" x2="167.00" y2="648.48" stroke="#3f71a5" stroke-width="1.1" />
<circle cx="157.40" cy="645.79" r="2.4" fill="#3f71a5"/>
<circle cx="163.10" cy="632.32" r="2.4" fill="#3f71a5"/>
<circle cx="168.80" cy="644.44" r="2.4" fill="#3f71a5"/>
<line x1="187.10" y1="593.71" x2="187.10" y2="608.97" stroke="#e05858" stroke-width="1.1" />
<line x1="183.20" y1="593.71" x2="191.00" y2="593.71" stroke="#e05858" stroke-width="1.1" />
<line x1="183.20" y1="608.97" x2="191.00" y2="608.97" stroke="#e05858" stroke-width="1.1" />
<circle cx="187.10" cy="599.09" r="2.4" fill="#e05858"/>
<circle cx="187.10" cy="608.52" r="2.4" fill="#e05858"/>
<circle cx="193.50" cy="594.60" r="2.4" fill="#e05858"/>
<line x1="211.30" y1="636.81" x2="211.30" y2="642.20" stroke="#ecc860" stroke-width="1.1" />
<line x1="207.40" y1="636.81" x2="215.20" y2="636.81" stroke="#ecc860" stroke-width="1.1" />
<line x1="207.40" y1="642.20" x2="215.20" y2="642.20" stroke="#ecc860" stroke-width="1.1" />
<circle cx="205.30" cy="642.65" r="2.4" fill="#ecc860"/>
<circle cx="211.30" cy="635.46" r="2.4" fill="#ecc860"/>
<circle cx="217.30" cy="638.61" r="2.4" fill="#ecc860"/>
<path d="M74.00,592.40 V587.90 H98.30 V595.80 M98.30,591.30 H122.40 V595.80" fill="none" stroke="#1a1a1a" stroke-width="1.1"/>
<polygon points="86.2,582.7 86.7,583.9 88.1,584.1 87.1,585.0 87.4,586.4 86.2,585.7 84.9,586.4 85.2,585.0 84.2,584.1 85.6,583.9" fill="#1a1a1a" stroke="#1a1a1a" stroke-width="0.35" stroke-linejoin="round"/>
<polygon points="110.3,586.1 110.9,587.3 112.3,587.5 111.3,588.4 111.6,589.8 110.3,589.1 109.1,589.8 109.4,588.4 108.4,587.5 109.8,587.3" fill="#1a1a1a" stroke="#1a1a1a" stroke-width="0.35" stroke-linejoin="round"/>
<path d="M162.20,586.90 V582.30 H187.00 V590.80 M187.00,586.20 H212.00 V590.80" fill="none" stroke="#1a1a1a" stroke-width="1.1"/>
<polygon points="174.6,577.1 175.2,578.3 176.6,578.5 175.5,579.4 175.8,580.8 174.6,580.1 173.4,580.8 173.7,579.4 172.6,578.5 174.0,578.3" fill="#1a1a1a" stroke="#1a1a1a" stroke-width="0.35" stroke-linejoin="round"/>
<polygon points="199.5,581.0 200.1,582.2 201.5,582.4 200.4,583.3 200.7,584.7 199.5,584.0 198.3,584.7 198.6,583.3 197.5,582.4 198.9,582.2" fill="#1a1a1a" stroke="#1a1a1a" stroke-width="0.35" stroke-linejoin="round"/>
<text x="142.80" y="559.10" font-size="11.1" text-anchor="middle" font-weight="bold" fill="#111" >MCF7</text>
<text transform="translate(42.10,629.60) rotate(-90)" font-size="10.75" text-anchor="middle" font-weight="bold" fill="#111" >Relative fold of HSPA6</text>
<text x="143.50" y="713.80" font-size="10.4" text-anchor="middle" font-weight="bold" fill="#111" >IP-p300</text>
<rect x="63.20" y="569.90" width="12.20" height="4.80" fill="#9db5cb" />
<text x="82.00" y="575.29" font-size="8.3" text-anchor="start" font-weight="bold" fill="#111" >Ctrl</text>
<rect x="108.00" y="569.90" width="12.20" height="4.80" fill="#e8aaaa" />
<text x="127.50" y="575.29" font-size="8.3" text-anchor="start" font-weight="bold" fill="#111" >TRIM35</text>
<rect x="166.40" y="569.90" width="11.80" height="4.80" fill="#f3e5b0" />
<text x="185.00" y="575.29" font-size="8.3" text-anchor="start" font-weight="bold" fill="#111" >TRIM35-Glc</text>
<rect x="301.10" y="479.70" width="16.10" height="24.90" fill="#9db5cb" />
<rect x="325.40" y="430.40" width="16.50" height="74.20" fill="#e8aaaa" />
<rect x="350.00" y="464.76" width="16.20" height="39.84" fill="#f3e5b0" />
<rect x="390.90" y="479.95" width="16.10" height="24.65" fill="#9db5cb" />
<rect x="415.30" y="468.00" width="16.40" height="36.60" fill="#e8aaaa" />
<rect x="439.60" y="476.71" width="16.50" height="27.89" fill="#f3e5b0" />
<line x1="292.80" y1="392.10" x2="292.80" y2="505.20" stroke="#1a1a1a" stroke-width="1.2" />
<line x1="292.20" y1="504.60" x2="464.90" y2="504.60" stroke="#1a1a1a" stroke-width="1.2" />
<line x1="288.80" y1="504.60" x2="292.80" y2="504.60" stroke="#1a1a1a" stroke-width="1.1" />
<text x="286.60" y="507.55" font-size="8.2" text-anchor="end" font-weight="bold" fill="#1a1a1a" >0</text>
<line x1="288.80" y1="479.70" x2="292.80" y2="479.70" stroke="#1a1a1a" stroke-width="1.1" />
<text x="286.60" y="482.65" font-size="8.2" text-anchor="end" font-weight="bold" fill="#1a1a1a" >1</text>
<line x1="288.80" y1="454.80" x2="292.80" y2="454.80" stroke="#1a1a1a" stroke-width="1.1" />
<text x="286.60" y="457.75" font-size="8.2" text-anchor="end" font-weight="bold" fill="#1a1a1a" >2</text>
<line x1="288.80" y1="429.90" x2="292.80" y2="429.90" stroke="#1a1a1a" stroke-width="1.1" />
<text x="286.60" y="432.85" font-size="8.2" text-anchor="end" font-weight="bold" fill="#1a1a1a" >3</text>
<line x1="288.80" y1="405.00" x2="292.80" y2="405.00" stroke="#1a1a1a" stroke-width="1.1" />
<text x="286.60" y="407.95" font-size="8.2" text-anchor="end" font-weight="bold" fill="#1a1a1a" >4</text>
<line x1="333.00" y1="504.60" x2="333.00" y2="509.10" stroke="#1a1a1a" stroke-width="1.1" />
<text x="333.00" y="518.00" font-size="8.5" text-anchor="middle" font-weight="bold" fill="#1a1a1a" >site 1</text>
<line x1="422.90" y1="504.60" x2="422.90" y2="509.10" stroke="#1a1a1a" stroke-width="1.1" />
<text x="422.90" y="518.00" font-size="8.5" text-anchor="middle" font-weight="bold" fill="#1a1a1a" >site 2</text>
<line x1="309.15" y1="478.95" x2="309.15" y2="480.45" stroke="#3f71a5" stroke-width="1.1" />
<line x1="305.25" y1="478.95" x2="313.05" y2="478.95" stroke="#3f71a5" stroke-width="1.1" />
<line x1="305.25" y1="480.45" x2="313.05" y2="480.45" stroke="#3f71a5" stroke-width="1.1" />
<circle cx="303.15" cy="480.45" r="2.4" fill="#3f71a5"/>
<circle cx="309.15" cy="479.20" r="2.4" fill="#3f71a5"/>
<circle cx="315.15" cy="479.70" r="2.4" fill="#3f71a5"/>
<line x1="333.65" y1="420.69" x2="333.65" y2="439.86" stroke="#e05858" stroke-width="1.1" />
<line x1="329.75" y1="420.69" x2="337.55" y2="420.69" stroke="#e05858" stroke-width="1.1" />
<line x1="329.75" y1="439.86" x2="337.55" y2="439.86" stroke="#e05858" stroke-width="1.1" />
<circle cx="333.65" cy="424.92" r="2.4" fill="#e05858"/>
<circle cx="333.65" cy="440.86" r="2.4" fill="#e05858"/>
<circle cx="339.65" cy="424.42" r="2.4" fill="#e05858"/>
<line x1="358.10" y1="461.52" x2="358.10" y2="466.00" stroke="#ecc860" stroke-width="1.1" />
<line x1="354.20" y1="461.52" x2="362.00" y2="461.52" stroke="#ecc860" stroke-width="1.1" />
<line x1="354.20" y1="466.00" x2="362.00" y2="466.00" stroke="#ecc860" stroke-width="1.1" />
<circle cx="352.10" cy="466.00" r="2.4" fill="#ecc860"/>
<circle cx="358.10" cy="462.27" r="2.4" fill="#ecc860"/>
<circle cx="364.10" cy="462.77" r="2.4" fill="#ecc860"/>
<line x1="398.95" y1="478.95" x2="398.95" y2="480.45" stroke="#3f71a5" stroke-width="1.1" />
<line x1="395.05" y1="478.95" x2="402.85" y2="478.95" stroke="#3f71a5" stroke-width="1.1" />
<line x1="395.05" y1="480.45" x2="402.85" y2="480.45" stroke="#3f71a5" stroke-width="1.1" />
<circle cx="392.95" cy="480.45" r="2.4" fill="#3f71a5"/>
<circle cx="398.95" cy="479.20" r="2.4" fill="#3f71a5"/>
<circle cx="404.95" cy="479.70" r="2.4" fill="#3f71a5"/>
<line x1="423.50" y1="466.00" x2="423.50" y2="468.50" stroke="#e05858" stroke-width="1.1" />
<line x1="419.60" y1="466.00" x2="427.40" y2="466.00" stroke="#e05858" stroke-width="1.1" />
<line x1="419.60" y1="468.50" x2="427.40" y2="468.50" stroke="#e05858" stroke-width="1.1" />
<circle cx="417.50" cy="468.50" r="2.4" fill="#e05858"/>
<circle cx="423.50" cy="466.00" r="2.4" fill="#e05858"/>
<circle cx="429.50" cy="467.25" r="2.4" fill="#e05858"/>
<line x1="447.85" y1="475.72" x2="447.85" y2="477.21" stroke="#ecc860" stroke-width="1.1" />
<line x1="443.95" y1="475.72" x2="451.75" y2="475.72" stroke="#ecc860" stroke-width="1.1" />
<line x1="443.95" y1="477.21" x2="451.75" y2="477.21" stroke="#ecc860" stroke-width="1.1" />
<circle cx="441.85" cy="477.21" r="2.4" fill="#ecc860"/>
<circle cx="447.85" cy="475.97" r="2.4" fill="#ecc860"/>
<circle cx="453.85" cy="476.71" r="2.4" fill="#ecc860"/>
<path d="M308.30,413.50 V409.00 H333.00 V417.30 M333.00,412.80 H357.60 V417.30" fill="none" stroke="#1a1a1a" stroke-width="1.1"/>
<polygon points="320.6,403.8 321.2,405.0 322.6,405.2 321.6,406.1 321.9,407.5 320.6,406.8 319.4,407.5 319.7,406.1 318.7,405.2 320.1,405.0" fill="#1a1a1a" stroke="#1a1a1a" stroke-width="0.35" stroke-linejoin="round"/>
<polygon points="345.3,407.6 345.9,408.8 347.3,409.0 346.2,409.9 346.5,411.3 345.3,410.6 344.1,411.3 344.4,409.9 343.3,409.0 344.7,408.8" fill="#1a1a1a" stroke="#1a1a1a" stroke-width="0.35" stroke-linejoin="round"/>
<path d="M398.30,453.70 V448.70 H422.90 V457.90 M422.90,452.90 H447.80 V457.90" fill="none" stroke="#1a1a1a" stroke-width="1.1"/>
<polygon points="410.6,443.5 411.2,444.7 412.6,444.9 411.5,445.8 411.8,447.2 410.6,446.5 409.4,447.2 409.7,445.8 408.6,444.9 410.0,444.7" fill="#1a1a1a" stroke="#1a1a1a" stroke-width="0.35" stroke-linejoin="round"/>
<polygon points="435.4,447.7 435.9,448.9 437.3,449.1 436.3,450.0 436.6,451.4 435.4,450.7 434.1,451.4 434.4,450.0 433.4,449.1 434.8,448.9" fill="#1a1a1a" stroke="#1a1a1a" stroke-width="0.35" stroke-linejoin="round"/>
<text x="378.00" y="376.70" font-size="10.9" text-anchor="middle" font-weight="bold" fill="#111" >MDA-MB-231</text>
<text transform="translate(275.90,448.00) rotate(-90)" font-size="10.75" text-anchor="middle" font-weight="bold" fill="#111" >Relative fold of HSPA6</text>
<text x="378.10" y="531.40" font-size="10.5" text-anchor="middle" font-weight="bold" fill="#111" textLength="60.5" lengthAdjust="spacingAndGlyphs">IP-H3K27ac</text>
<rect x="297.00" y="392.10" width="12.20" height="4.80" fill="#9db5cb" />
<text x="316.00" y="397.49" font-size="8.3" text-anchor="start" font-weight="bold" fill="#111" >Ctrl</text>
<rect x="343.40" y="392.10" width="12.20" height="4.80" fill="#e8aaaa" />
<text x="362.80" y="397.49" font-size="8.3" text-anchor="start" font-weight="bold" fill="#111" >TRIM35</text>
<rect x="401.70" y="392.10" width="11.80" height="4.80" fill="#f3e5b0" />
<text x="421.20" y="397.49" font-size="8.3" text-anchor="start" font-weight="bold" fill="#111" >TRIM35-Glc</text>
<rect x="306.00" y="630.20" width="16.00" height="55.90" fill="#9db5cb" />
<rect x="330.00" y="610.08" width="16.30" height="76.02" fill="#e8aaaa" />
<rect x="354.00" y="645.01" width="16.50" height="41.09" fill="#f3e5b0" />
<rect x="394.00" y="630.20" width="16.30" height="55.90" fill="#9db5cb" />
<rect x="418.10" y="616.23" width="16.50" height="69.88" fill="#e8aaaa" />
<rect x="442.40" y="655.91" width="16.50" height="30.19" fill="#f3e5b0" />
<line x1="298.30" y1="573.90" x2="298.30" y2="686.70" stroke="#1a1a1a" stroke-width="1.2" />
<line x1="297.70" y1="686.10" x2="467.30" y2="686.10" stroke="#1a1a1a" stroke-width="1.2" />
<line x1="294.30" y1="686.10" x2="298.30" y2="686.10" stroke="#1a1a1a" stroke-width="1.1" />
<text x="292.10" y="689.05" font-size="8.2" text-anchor="end" font-weight="bold" fill="#1a1a1a" >0.0</text>
<line x1="294.30" y1="658.15" x2="298.30" y2="658.15" stroke="#1a1a1a" stroke-width="1.1" />
<text x="292.10" y="661.10" font-size="8.2" text-anchor="end" font-weight="bold" fill="#1a1a1a" >0.5</text>
<line x1="294.30" y1="630.20" x2="298.30" y2="630.20" stroke="#1a1a1a" stroke-width="1.1" />
<text x="292.10" y="633.15" font-size="8.2" text-anchor="end" font-weight="bold" fill="#1a1a1a" >1.0</text>
<line x1="294.30" y1="602.25" x2="298.30" y2="602.25" stroke="#1a1a1a" stroke-width="1.1" />
<text x="292.10" y="605.20" font-size="8.2" text-anchor="end" font-weight="bold" fill="#1a1a1a" >1.5</text>
<line x1="294.30" y1="574.30" x2="298.30" y2="574.30" stroke="#1a1a1a" stroke-width="1.1" />
<text x="292.10" y="577.25" font-size="8.2" text-anchor="end" font-weight="bold" fill="#1a1a1a" >2.0</text>
<line x1="337.70" y1="686.10" x2="337.70" y2="690.60" stroke="#1a1a1a" stroke-width="1.1" />
<text x="337.70" y="700.00" font-size="8.5" text-anchor="middle" font-weight="bold" fill="#1a1a1a" >site 1</text>
<line x1="426.50" y1="686.10" x2="426.50" y2="690.60" stroke="#1a1a1a" stroke-width="1.1" />
<text x="426.50" y="700.00" font-size="8.5" text-anchor="middle" font-weight="bold" fill="#1a1a1a" >site 2</text>
<line x1="314.00" y1="622.93" x2="314.00" y2="637.47" stroke="#3f71a5" stroke-width="1.1" />
<line x1="310.10" y1="622.93" x2="317.90" y2="622.93" stroke="#3f71a5" stroke-width="1.1" />
<line x1="310.10" y1="637.47" x2="317.90" y2="637.47" stroke="#3f71a5" stroke-width="1.1" />
<circle cx="314.00" cy="623.49" r="2.4" fill="#3f71a5"/>
<circle cx="314.00" cy="630.20" r="2.4" fill="#3f71a5"/>
<circle cx="314.00" cy="637.47" r="2.4" fill="#3f71a5"/>
<line x1="338.15" y1="603.37" x2="338.15" y2="616.23" stroke="#e05858" stroke-width="1.1" />
<line x1="334.25" y1="603.37" x2="342.05" y2="603.37" stroke="#e05858" stroke-width="1.1" />
<line x1="334.25" y1="616.23" x2="342.05" y2="616.23" stroke="#e05858" stroke-width="1.1" />
<circle cx="332.15" cy="615.11" r="2.4" fill="#e05858"/>
<circle cx="338.15" cy="603.37" r="2.4" fill="#e05858"/>
<circle cx="344.15" cy="611.75" r="2.4" fill="#e05858"/>
<line x1="362.25" y1="644.18" x2="362.25" y2="645.85" stroke="#ecc860" stroke-width="1.1" />
<line x1="358.35" y1="644.18" x2="366.15" y2="644.18" stroke="#ecc860" stroke-width="1.1" />
<line x1="358.35" y1="645.85" x2="366.15" y2="645.85" stroke="#ecc860" stroke-width="1.1" />
<circle cx="356.25" cy="645.85" r="2.4" fill="#ecc860"/>
<circle cx="362.25" cy="644.18" r="2.4" fill="#ecc860"/>
<circle cx="368.25" cy="644.73" r="2.4" fill="#ecc860"/>
<line x1="402.15" y1="628.52" x2="402.15" y2="634.67" stroke="#3f71a5" stroke-width="1.1" />
<line x1="398.25" y1="628.52" x2="406.05" y2="628.52" stroke="#3f71a5" stroke-width="1.1" />
<line x1="398.25" y1="634.67" x2="406.05" y2="634.67" stroke="#3f71a5" stroke-width="1.1" />
<circle cx="402.15" cy="630.20" r="2.4" fill="#3f71a5"/>
<circle cx="402.15" cy="634.67" r="2.4" fill="#3f71a5"/>
<circle cx="408.15" cy="628.52" r="2.4" fill="#3f71a5"/>
<line x1="426.35" y1="613.43" x2="426.35" y2="621.82" stroke="#e05858" stroke-width="1.1" />
<line x1="422.45" y1="613.43" x2="430.25" y2="613.43" stroke="#e05858" stroke-width="1.1" />
<line x1="422.45" y1="621.82" x2="430.25" y2="621.82" stroke="#e05858" stroke-width="1.1" />
<circle cx="426.35" cy="616.23" r="2.4" fill="#e05858"/>
<circle cx="426.35" cy="621.82" r="2.4" fill="#e05858"/>
<circle cx="432.35" cy="613.43" r="2.4" fill="#e05858"/>
<line x1="450.65" y1="654.80" x2="450.65" y2="657.03" stroke="#ecc860" stroke-width="1.1" />
<line x1="446.75" y1="654.80" x2="454.55" y2="654.80" stroke="#ecc860" stroke-width="1.1" />
<line x1="446.75" y1="657.03" x2="454.55" y2="657.03" stroke="#ecc860" stroke-width="1.1" />
<circle cx="444.65" cy="657.03" r="2.4" fill="#ecc860"/>
<circle cx="450.65" cy="655.36" r="2.4" fill="#ecc860"/>
<circle cx="456.65" cy="656.47" r="2.4" fill="#ecc860"/>
<path d="M313.30,594.60 V589.60 H337.70 V597.90 M337.70,592.90 H362.00 V597.90" fill="none" stroke="#1a1a1a" stroke-width="1.1"/>
<polygon points="325.5,584.4 326.1,585.6 327.5,585.8 326.4,586.7 326.7,588.1 325.5,587.4 324.3,588.1 324.6,586.7 323.5,585.8 324.9,585.6" fill="#1a1a1a" stroke="#1a1a1a" stroke-width="0.35" stroke-linejoin="round"/>
<polygon points="349.9,587.7 350.4,588.9 351.8,589.1 350.8,590.0 351.1,591.4 349.9,590.7 348.6,591.4 348.9,590.0 347.9,589.1 349.3,588.9" fill="#1a1a1a" stroke="#1a1a1a" stroke-width="0.35" stroke-linejoin="round"/>
<path d="M402.20,603.70 V598.30 H426.50 V608.00 M426.50,602.60 H450.80 V608.00" fill="none" stroke="#1a1a1a" stroke-width="1.1"/>
<polygon points="414.4,593.1 414.9,594.3 416.3,594.5 415.3,595.4 415.6,596.8 414.4,596.1 413.1,596.8 413.4,595.4 412.4,594.5 413.8,594.3" fill="#1a1a1a" stroke="#1a1a1a" stroke-width="0.35" stroke-linejoin="round"/>
<polygon points="438.6,597.4 439.2,598.6 440.6,598.8 439.6,599.7 439.9,601.1 438.6,600.4 437.4,601.1 437.7,599.7 436.7,598.8 438.1,598.6" fill="#1a1a1a" stroke="#1a1a1a" stroke-width="0.35" stroke-linejoin="round"/>
<text x="382.00" y="559.10" font-size="11.1" text-anchor="middle" font-weight="bold" fill="#111" >MCF7</text>
<text transform="translate(274.10,629.90) rotate(-90)" font-size="10.75" text-anchor="middle" font-weight="bold" fill="#111" >Relative fold of HSPA6</text>
<text x="382.30" y="713.40" font-size="10.5" text-anchor="middle" font-weight="bold" fill="#111" textLength="60.5" lengthAdjust="spacingAndGlyphs">IP-H3K27ac</text>
<rect x="302.60" y="571.60" width="12.20" height="4.80" fill="#9db5cb" />
<text x="321.20" y="576.99" font-size="8.3" text-anchor="start" font-weight="bold" fill="#111" >Ctrl</text>
<rect x="347.80" y="571.60" width="12.20" height="4.80" fill="#e8aaaa" />
<text x="367.20" y="576.99" font-size="8.3" text-anchor="start" font-weight="bold" fill="#111" >TRIM35</text>
<rect x="405.10" y="571.60" width="11.80" height="4.80" fill="#f3e5b0" />
<text x="424.50" y="576.99" font-size="8.3" text-anchor="start" font-weight="bold" fill="#111" >TRIM35-Glc</text>
<rect x="537.10" y="476.60" width="17.90" height="27.50" fill="#9db5cb" />
<rect x="559.00" y="422.98" width="17.10" height="81.12" fill="#e8aaaa" />
<rect x="597.20" y="476.60" width="17.60" height="27.50" fill="#9db5cb" />
<rect x="619.00" y="442.50" width="17.40" height="61.60" fill="#e8aaaa" />
<line x1="529.00" y1="393.60" x2="529.00" y2="504.70" stroke="#1a1a1a" stroke-width="1.2" />
<line x1="528.40" y1="504.10" x2="645.80" y2="504.10" stroke="#1a1a1a" stroke-width="1.2" />
<line x1="525.00" y1="504.10" x2="529.00" y2="504.10" stroke="#1a1a1a" stroke-width="1.1" />
<text x="522.80" y="507.05" font-size="8.2" text-anchor="end" font-weight="bold" fill="#1a1a1a" >0</text>
<line x1="525.00" y1="476.60" x2="529.00" y2="476.60" stroke="#1a1a1a" stroke-width="1.1" />
<text x="522.80" y="479.55" font-size="8.2" text-anchor="end" font-weight="bold" fill="#1a1a1a" >1</text>
<line x1="525.00" y1="449.10" x2="529.00" y2="449.10" stroke="#1a1a1a" stroke-width="1.1" />
<text x="522.80" y="452.05" font-size="8.2" text-anchor="end" font-weight="bold" fill="#1a1a1a" >2</text>
<line x1="525.00" y1="421.60" x2="529.00" y2="421.60" stroke="#1a1a1a" stroke-width="1.1" />
<text x="522.80" y="424.55" font-size="8.2" text-anchor="end" font-weight="bold" fill="#1a1a1a" >3</text>
<line x1="525.00" y1="394.10" x2="529.00" y2="394.10" stroke="#1a1a1a" stroke-width="1.1" />
<text x="522.80" y="397.05" font-size="8.2" text-anchor="end" font-weight="bold" fill="#1a1a1a" >4</text>
<line x1="557.00" y1="504.10" x2="557.00" y2="508.60" stroke="#1a1a1a" stroke-width="1.1" />
<text x="557.00" y="518.00" font-size="8.5" text-anchor="middle" font-weight="bold" fill="#1a1a1a" >site 1</text>
<line x1="617.00" y1="504.10" x2="617.00" y2="508.60" stroke="#1a1a1a" stroke-width="1.1" />
<text x="617.00" y="518.00" font-size="8.5" text-anchor="middle" font-weight="bold" fill="#1a1a1a" >site 2</text>
<line x1="546.05" y1="475.78" x2="546.05" y2="477.43" stroke="#3f71a5" stroke-width="1.1" />
<line x1="542.15" y1="475.78" x2="549.95" y2="475.78" stroke="#3f71a5" stroke-width="1.1" />
<line x1="542.15" y1="477.43" x2="549.95" y2="477.43" stroke="#3f71a5" stroke-width="1.1" />
<circle cx="540.05" cy="477.43" r="2.7" fill="#3f71a5"/>
<circle cx="546.05" cy="475.78" r="2.7" fill="#3f71a5"/>
<circle cx="552.05" cy="476.60" r="2.7" fill="#3f71a5"/>
<line x1="567.55" y1="407.85" x2="567.55" y2="438.10" stroke="#e05858" stroke-width="1.1" />
<line x1="563.65" y1="407.85" x2="571.45" y2="407.85" stroke="#e05858" stroke-width="1.1" />
<line x1="563.65" y1="438.10" x2="571.45" y2="438.10" stroke="#e05858" stroke-width="1.1" />
<circle cx="561.55" cy="431.23" r="2.7" fill="#e05858"/>
<circle cx="567.55" cy="405.10" r="2.7" fill="#e05858"/>
<circle cx="573.55" cy="431.23" r="2.7" fill="#e05858"/>
<line x1="606.00" y1="471.10" x2="606.00" y2="482.65" stroke="#3f71a5" stroke-width="1.1" />
<line x1="602.10" y1="471.10" x2="609.90" y2="471.10" stroke="#3f71a5" stroke-width="1.1" />
<line x1="602.10" y1="482.65" x2="609.90" y2="482.65" stroke="#3f71a5" stroke-width="1.1" />
<circle cx="600.00" cy="480.73" r="2.7" fill="#3f71a5"/>
<circle cx="606.00" cy="469.73" r="2.7" fill="#3f71a5"/>
<circle cx="612.00" cy="477.98" r="2.7" fill="#3f71a5"/>
<line x1="627.70" y1="433.43" x2="627.70" y2="451.85" stroke="#e05858" stroke-width="1.1" />
<line x1="623.80" y1="433.43" x2="631.60" y2="433.43" stroke="#e05858" stroke-width="1.1" />
<line x1="623.80" y1="451.85" x2="631.60" y2="451.85" stroke="#e05858" stroke-width="1.1" />
<circle cx="621.70" cy="435.35" r="2.7" fill="#e05858"/>
<circle cx="627.70" cy="451.85" r="2.7" fill="#e05858"/>
<circle cx="633.70" cy="438.10" r="2.7" fill="#e05858"/>
<path d="M545.00,401.10 V395.40 H568.20 V401.10" fill="none" stroke="#1a1a1a" stroke-width="1.1"/>
<polygon points="556.6,390.2 557.2,391.4 558.6,391.6 557.5,392.5 557.8,393.9 556.6,393.2 555.4,393.9 555.7,392.5 554.6,391.6 556.0,391.4" fill="#1a1a1a" stroke="#1a1a1a" stroke-width="0.35" stroke-linejoin="round"/>
<path d="M606.10,429.60 V425.40 H627.20 V429.60" fill="none" stroke="#1a1a1a" stroke-width="1.1"/>
<polygon points="616.7,420.2 617.2,421.4 618.6,421.6 617.6,422.5 617.9,423.9 616.7,423.2 615.4,423.9 615.7,422.5 614.7,421.6 616.1,421.4" fill="#1a1a1a" stroke="#1a1a1a" stroke-width="0.35" stroke-linejoin="round"/>
<text x="586.50" y="379.10" font-size="10.75" text-anchor="middle" font-weight="bold" fill="#111" >MDA-MB-231</text>
<text transform="translate(512.60,448.60) rotate(-90)" font-size="10.75" text-anchor="middle" font-weight="bold" fill="#111" >Relative fold of HSPA6</text>
<text x="586.50" y="531.60" font-size="10.4" text-anchor="middle" font-weight="bold" fill="#111" >IP-POLR 2A</text>
<rect x="588.20" y="392.20" width="11.70" height="5.60" fill="#9db5cb" />
<text x="606.60" y="398.35" font-size="9.3" text-anchor="start" font-weight="bold" fill="#111" >Ctrl</text>
<rect x="588.20" y="402.60" width="11.70" height="5.70" fill="#e8aaaa" />
<text x="606.60" y="408.80" font-size="9.3" text-anchor="start" font-weight="bold" fill="#111" >TRIM35</text>
<rect x="544.90" y="642.10" width="17.00" height="44.10" fill="#9db5cb" />
<rect x="566.10" y="619.17" width="17.30" height="67.03" fill="#e8aaaa" />
<rect x="605.10" y="642.10" width="16.90" height="44.10" fill="#9db5cb" />
<rect x="626.20" y="616.96" width="17.00" height="69.24" fill="#e8aaaa" />
<line x1="536.20" y1="575.40" x2="536.20" y2="686.80" stroke="#1a1a1a" stroke-width="1.2" />
<line x1="535.60" y1="686.20" x2="653.00" y2="686.20" stroke="#1a1a1a" stroke-width="1.2" />
<line x1="532.20" y1="686.20" x2="536.20" y2="686.20" stroke="#1a1a1a" stroke-width="1.1" />
<text x="530.00" y="689.15" font-size="8.2" text-anchor="end" font-weight="bold" fill="#1a1a1a" >0.0</text>
<line x1="532.20" y1="664.15" x2="536.20" y2="664.15" stroke="#1a1a1a" stroke-width="1.1" />
<text x="530.00" y="667.10" font-size="8.2" text-anchor="end" font-weight="bold" fill="#1a1a1a" >0.5</text>
<line x1="532.20" y1="642.10" x2="536.20" y2="642.10" stroke="#1a1a1a" stroke-width="1.1" />
<text x="530.00" y="645.05" font-size="8.2" text-anchor="end" font-weight="bold" fill="#1a1a1a" >1.0</text>
<line x1="532.20" y1="620.05" x2="536.20" y2="620.05" stroke="#1a1a1a" stroke-width="1.1" />
<text x="530.00" y="623.00" font-size="8.2" text-anchor="end" font-weight="bold" fill="#1a1a1a" >1.5</text>
<line x1="532.20" y1="598.00" x2="536.20" y2="598.00" stroke="#1a1a1a" stroke-width="1.1" />
<text x="530.00" y="600.95" font-size="8.2" text-anchor="end" font-weight="bold" fill="#1a1a1a" >2.0</text>
<line x1="532.20" y1="575.95" x2="536.20" y2="575.95" stroke="#1a1a1a" stroke-width="1.1" />
<text x="530.00" y="578.90" font-size="8.2" text-anchor="end" font-weight="bold" fill="#1a1a1a" >2.5</text>
<line x1="563.80" y1="686.20" x2="563.80" y2="690.70" stroke="#1a1a1a" stroke-width="1.1" />
<text x="563.80" y="700.00" font-size="8.5" text-anchor="middle" font-weight="bold" fill="#1a1a1a" >site 1</text>
<line x1="623.80" y1="686.20" x2="623.80" y2="690.70" stroke="#1a1a1a" stroke-width="1.1" />
<text x="623.80" y="700.00" font-size="8.5" text-anchor="middle" font-weight="bold" fill="#1a1a1a" >site 2</text>
<line x1="553.40" y1="641.22" x2="553.40" y2="643.42" stroke="#3f71a5" stroke-width="1.1" />
<line x1="549.50" y1="641.22" x2="557.30" y2="641.22" stroke="#3f71a5" stroke-width="1.1" />
<line x1="549.50" y1="643.42" x2="557.30" y2="643.42" stroke="#3f71a5" stroke-width="1.1" />
<circle cx="547.40" cy="643.42" r="2.7" fill="#3f71a5"/>
<circle cx="553.40" cy="641.22" r="2.7" fill="#3f71a5"/>
<circle cx="559.40" cy="642.10" r="2.7" fill="#3f71a5"/>
<line x1="574.75" y1="614.76" x2="574.75" y2="621.37" stroke="#e05858" stroke-width="1.1" />
<line x1="570.85" y1="614.76" x2="578.65" y2="614.76" stroke="#e05858" stroke-width="1.1" />
<line x1="570.85" y1="621.37" x2="578.65" y2="621.37" stroke="#e05858" stroke-width="1.1" />
<circle cx="568.75" cy="620.05" r="2.7" fill="#e05858"/>
<circle cx="574.75" cy="614.32" r="2.7" fill="#e05858"/>
<circle cx="580.75" cy="619.17" r="2.7" fill="#e05858"/>
<circle cx="607.55" cy="642.10" r="2.7" fill="#3f71a5"/>
<circle cx="613.55" cy="642.10" r="2.7" fill="#3f71a5"/>
<circle cx="619.55" cy="642.10" r="2.7" fill="#3f71a5"/>
<line x1="634.70" y1="607.70" x2="634.70" y2="625.78" stroke="#e05858" stroke-width="1.1" />
<line x1="630.80" y1="607.70" x2="638.60" y2="607.70" stroke="#e05858" stroke-width="1.1" />
<line x1="630.80" y1="625.78" x2="638.60" y2="625.78" stroke="#e05858" stroke-width="1.1" />
<circle cx="634.70" cy="607.70" r="2.7" fill="#e05858"/>
<circle cx="634.70" cy="617.85" r="2.7" fill="#e05858"/>
<circle cx="634.70" cy="625.34" r="2.7" fill="#e05858"/>
<path d="M553.30,607.90 V603.70 H575.20 V607.90" fill="none" stroke="#1a1a1a" stroke-width="1.1"/>
<polygon points="564.2,598.5 564.8,599.7 566.2,599.9 565.2,600.8 565.5,602.2 564.2,601.5 563.0,602.2 563.3,600.8 562.3,599.9 563.7,599.7" fill="#1a1a1a" stroke="#1a1a1a" stroke-width="0.35" stroke-linejoin="round"/>
<path d="M613.30,600.20 V595.50 H635.00 V600.20" fill="none" stroke="#1a1a1a" stroke-width="1.1"/>
<polygon points="624.1,590.3 624.7,591.5 626.1,591.7 625.1,592.6 625.4,594.0 624.1,593.3 622.9,594.0 623.2,592.6 622.2,591.7 623.6,591.5" fill="#1a1a1a" stroke="#1a1a1a" stroke-width="0.35" stroke-linejoin="round"/>
<text x="593.30" y="559.30" font-size="11.1" text-anchor="middle" font-weight="bold" fill="#111" >MCF7</text>
<text transform="translate(512.60,629.70) rotate(-90)" font-size="10.75" text-anchor="middle" font-weight="bold" fill="#111" >Relative fold of HSPA6</text>
<text x="593.50" y="713.70" font-size="10.4" text-anchor="middle" font-weight="bold" fill="#111" >IP-POLR 2A</text>
<rect x="601.70" y="568.20" width="11.80" height="5.60" fill="#9db5cb" />
<text x="620.30" y="574.35" font-size="9.3" text-anchor="start" font-weight="bold" fill="#111" >Ctrl</text>
<rect x="601.70" y="578.90" width="11.80" height="5.60" fill="#e8aaaa" />
<text x="620.30" y="585.05" font-size="9.3" text-anchor="start" font-weight="bold" fill="#111" >TRIM35</text>
<rect x="56.10" y="869.01" width="16.30" height="11.49" fill="#9db5cb" />
<rect x="80.10" y="780.77" width="16.40" height="99.73" fill="#e8aaaa" />
<rect x="104.70" y="806.04" width="16.30" height="74.46" fill="#f3e5b0" />
<line x1="47.90" y1="765.10" x2="47.90" y2="881.10" stroke="#1a1a1a" stroke-width="1.2" />
<line x1="47.30" y1="880.50" x2="129.70" y2="880.50" stroke="#1a1a1a" stroke-width="1.2" />
<line x1="43.90" y1="880.50" x2="47.90" y2="880.50" stroke="#1a1a1a" stroke-width="1.1" />
<text x="42.60" y="883.13" font-size="7.3" text-anchor="end" font-weight="bold" fill="#1a1a1a" >0</text>
<line x1="43.90" y1="857.52" x2="47.90" y2="857.52" stroke="#1a1a1a" stroke-width="1.1" />
<text x="42.60" y="860.15" font-size="7.3" text-anchor="end" font-weight="bold" fill="#1a1a1a" >2</text>
<line x1="43.90" y1="834.54" x2="47.90" y2="834.54" stroke="#1a1a1a" stroke-width="1.1" />
<text x="42.60" y="837.17" font-size="7.3" text-anchor="end" font-weight="bold" fill="#1a1a1a" >4</text>
<line x1="43.90" y1="811.56" x2="47.90" y2="811.56" stroke="#1a1a1a" stroke-width="1.1" />
<text x="42.60" y="814.19" font-size="7.3" text-anchor="end" font-weight="bold" fill="#1a1a1a" >6</text>
<line x1="43.90" y1="788.58" x2="47.90" y2="788.58" stroke="#1a1a1a" stroke-width="1.1" />
<text x="42.60" y="791.21" font-size="7.3" text-anchor="end" font-weight="bold" fill="#1a1a1a" >8</text>
<line x1="43.90" y1="765.60" x2="47.90" y2="765.60" stroke="#1a1a1a" stroke-width="1.1" />
<text x="42.60" y="768.23" font-size="7.3" text-anchor="end" font-weight="bold" fill="#1a1a1a" >10</text>
<line x1="63.60" y1="880.50" x2="63.60" y2="885.00" stroke="#1a1a1a" stroke-width="1.1" />
<line x1="88.30" y1="880.50" x2="88.30" y2="885.00" stroke="#1a1a1a" stroke-width="1.1" />
<line x1="112.90" y1="880.50" x2="112.90" y2="885.00" stroke="#1a1a1a" stroke-width="1.1" />
<circle cx="58.25" cy="869.01" r="2.4" fill="#3f71a5"/>
<circle cx="64.25" cy="869.01" r="2.4" fill="#3f71a5"/>
<circle cx="70.25" cy="869.01" r="2.4" fill="#3f71a5"/>
<line x1="88.30" y1="774.79" x2="88.30" y2="786.86" stroke="#e05858" stroke-width="1.1" />
<line x1="84.40" y1="774.79" x2="92.20" y2="774.79" stroke="#e05858" stroke-width="1.1" />
<line x1="84.40" y1="786.86" x2="92.20" y2="786.86" stroke="#e05858" stroke-width="1.1" />
<circle cx="88.30" cy="786.51" r="2.4" fill="#e05858"/>
<circle cx="88.30" cy="779.39" r="2.4" fill="#e05858"/>
<circle cx="94.20" cy="776.06" r="2.4" fill="#e05858"/>
<line x1="112.85" y1="803.52" x2="112.85" y2="809.26" stroke="#ecc860" stroke-width="1.1" />
<line x1="108.95" y1="803.52" x2="116.75" y2="803.52" stroke="#ecc860" stroke-width="1.1" />
<line x1="108.95" y1="809.26" x2="116.75" y2="809.26" stroke="#ecc860" stroke-width="1.1" />
<circle cx="106.85" cy="808.11" r="2.4" fill="#ecc860"/>
<circle cx="112.85" cy="802.37" r="2.4" fill="#ecc860"/>
<circle cx="118.85" cy="805.82" r="2.4" fill="#ecc860"/>
<path d="M64.20,771.40 V767.30 H89.20 V772.40 M89.20,769.60 H114.30 V772.40" fill="none" stroke="#1a1a1a" stroke-width="1.1"/>
<polygon points="76.7,761.8 77.1,762.7 78.1,762.8 77.4,763.5 77.6,764.4 76.7,764.0 75.8,764.4 76.0,763.5 75.3,762.8 76.3,762.7" fill="#1a1a1a" stroke="#1a1a1a" stroke-width="0.35" stroke-linejoin="round"/>
<polygon points="101.8,764.1 102.2,765.0 103.2,765.1 102.4,765.8 102.6,766.7 101.8,766.3 100.9,766.7 101.1,765.8 100.3,765.1 101.3,765.0" fill="#1a1a1a" stroke="#1a1a1a" stroke-width="0.35" stroke-linejoin="round"/>
<text x="88.30" y="752.60" font-size="10.7" text-anchor="middle" font-weight="bold" fill="#111" >MDA-MB-231</text>
<text transform="translate(29.10,822.40) rotate(-90)" font-size="9.8" text-anchor="middle" font-weight="bold" fill="#111" textLength="122.8" lengthAdjust="spacingAndGlyphs">Relative HSPA6 mRNA level</text>
<rect x="170.80" y="865.95" width="16.10" height="14.35" fill="#9db5cb" />
<rect x="195.30" y="781.57" width="16.10" height="98.73" fill="#e8aaaa" />
<rect x="219.40" y="816.01" width="16.50" height="64.29" fill="#f3e5b0" />
<line x1="162.20" y1="765.00" x2="162.20" y2="880.90" stroke="#1a1a1a" stroke-width="1.2" />
<line x1="161.60" y1="880.30" x2="243.20" y2="880.30" stroke="#1a1a1a" stroke-width="1.2" />
<line x1="158.20" y1="880.30" x2="162.20" y2="880.30" stroke="#1a1a1a" stroke-width="1.1" />
<text x="156.90" y="882.93" font-size="7.3" text-anchor="end" font-weight="bold" fill="#1a1a1a" >0</text>
<line x1="158.20" y1="851.60" x2="162.20" y2="851.60" stroke="#1a1a1a" stroke-width="1.1" />
<text x="156.90" y="854.23" font-size="7.3" text-anchor="end" font-weight="bold" fill="#1a1a1a" >2</text>
<line x1="158.20" y1="822.90" x2="162.20" y2="822.90" stroke="#1a1a1a" stroke-width="1.1" />
<text x="156.90" y="825.53" font-size="7.3" text-anchor="end" font-weight="bold" fill="#1a1a1a" >4</text>
<line x1="158.20" y1="794.20" x2="162.20" y2="794.20" stroke="#1a1a1a" stroke-width="1.1" />
<text x="156.90" y="796.83" font-size="7.3" text-anchor="end" font-weight="bold" fill="#1a1a1a" >6</text>
<line x1="158.20" y1="765.50" x2="162.20" y2="765.50" stroke="#1a1a1a" stroke-width="1.1" />
<text x="156.90" y="768.13" font-size="7.3" text-anchor="end" font-weight="bold" fill="#1a1a1a" >8</text>
<line x1="178.20" y1="880.30" x2="178.20" y2="884.80" stroke="#1a1a1a" stroke-width="1.1" />
<line x1="203.40" y1="880.30" x2="203.40" y2="884.80" stroke="#1a1a1a" stroke-width="1.1" />
<line x1="227.50" y1="880.30" x2="227.50" y2="884.80" stroke="#1a1a1a" stroke-width="1.1" />
<circle cx="172.85" cy="866.38" r="2.4" fill="#3f71a5"/>
<circle cx="178.85" cy="865.52" r="2.4" fill="#3f71a5"/>
<circle cx="184.85" cy="865.95" r="2.4" fill="#3f71a5"/>
<line x1="203.35" y1="778.41" x2="203.35" y2="784.87" stroke="#e05858" stroke-width="1.1" />
<line x1="199.45" y1="778.41" x2="207.25" y2="778.41" stroke="#e05858" stroke-width="1.1" />
<line x1="199.45" y1="784.87" x2="207.25" y2="784.87" stroke="#e05858" stroke-width="1.1" />
<circle cx="197.35" cy="784.87" r="2.4" fill="#e05858"/>
<circle cx="203.35" cy="778.41" r="2.4" fill="#e05858"/>
<circle cx="209.35" cy="782.72" r="2.4" fill="#e05858"/>
<line x1="227.65" y1="806.40" x2="227.65" y2="827.20" stroke="#ecc860" stroke-width="1.1" />
<line x1="223.75" y1="806.40" x2="231.55" y2="806.40" stroke="#ecc860" stroke-width="1.1" />
<line x1="223.75" y1="827.20" x2="231.55" y2="827.20" stroke="#ecc860" stroke-width="1.1" />
<circle cx="221.65" cy="809.27" r="2.4" fill="#ecc860"/>
<circle cx="227.65" cy="827.92" r="2.4" fill="#ecc860"/>
<circle cx="233.65" cy="809.98" r="2.4" fill="#ecc860"/>
<path d="M178.80,773.40 V767.10 H203.80 V774.30 M203.80,770.70 H229.10 V774.30" fill="none" stroke="#1a1a1a" stroke-width="1.1"/>
<polygon points="191.3,761.6 191.7,762.5 192.7,762.6 192.0,763.3 192.2,764.2 191.3,763.8 190.4,764.2 190.6,763.3 189.9,762.6 190.9,762.5" fill="#1a1a1a" stroke="#1a1a1a" stroke-width="0.35" stroke-linejoin="round"/>
<polygon points="216.4,765.2 216.9,766.1 217.9,766.2 217.1,766.9 217.3,767.8 216.4,767.4 215.6,767.8 215.8,766.9 215.0,766.2 216.0,766.1" fill="#1a1a1a" stroke="#1a1a1a" stroke-width="0.35" stroke-linejoin="round"/>
<text x="203.40" y="752.40" font-size="10.7" text-anchor="middle" font-weight="bold" fill="#111" >MCF7</text>
<text transform="translate(147.90,822.40) rotate(-90)" font-size="9.8" text-anchor="middle" font-weight="bold" fill="#111" textLength="122.8" lengthAdjust="spacingAndGlyphs">Relative HSPA6 mRNA level</text>
<rect x="288.20" y="822.90" width="16.50" height="57.40" fill="#9db5cb" />
<rect x="312.70" y="790.93" width="16.30" height="89.37" fill="#e8aaaa" />
<rect x="337.10" y="815.04" width="16.40" height="65.26" fill="#f3e5b0" />
<line x1="280.80" y1="765.00" x2="280.80" y2="880.90" stroke="#1a1a1a" stroke-width="1.2" />
<line x1="280.20" y1="880.30" x2="360.60" y2="880.30" stroke="#1a1a1a" stroke-width="1.2" />
<line x1="276.80" y1="880.30" x2="280.80" y2="880.30" stroke="#1a1a1a" stroke-width="1.1" />
<text x="275.50" y="882.93" font-size="7.3" text-anchor="end" font-weight="bold" fill="#1a1a1a" >0.0</text>
<line x1="276.80" y1="851.60" x2="280.80" y2="851.60" stroke="#1a1a1a" stroke-width="1.1" />
<text x="275.50" y="854.23" font-size="7.3" text-anchor="end" font-weight="bold" fill="#1a1a1a" >0.5</text>
<line x1="276.80" y1="822.90" x2="280.80" y2="822.90" stroke="#1a1a1a" stroke-width="1.1" />
<text x="275.50" y="825.53" font-size="7.3" text-anchor="end" font-weight="bold" fill="#1a1a1a" >1.0</text>
<line x1="276.80" y1="794.20" x2="280.80" y2="794.20" stroke="#1a1a1a" stroke-width="1.1" />
<text x="275.50" y="796.83" font-size="7.3" text-anchor="end" font-weight="bold" fill="#1a1a1a" >1.5</text>
<line x1="276.80" y1="765.50" x2="280.80" y2="765.50" stroke="#1a1a1a" stroke-width="1.1" />
<text x="275.50" y="768.13" font-size="7.3" text-anchor="end" font-weight="bold" fill="#1a1a1a" >2.0</text>
<line x1="296.30" y1="880.30" x2="296.30" y2="884.80" stroke="#1a1a1a" stroke-width="1.1" />
<line x1="320.80" y1="880.30" x2="320.80" y2="884.80" stroke="#1a1a1a" stroke-width="1.1" />
<line x1="344.90" y1="880.30" x2="344.90" y2="884.80" stroke="#1a1a1a" stroke-width="1.1" />
<circle cx="290.45" cy="822.90" r="2.4" fill="#3f71a5"/>
<circle cx="296.45" cy="822.90" r="2.4" fill="#3f71a5"/>
<circle cx="302.45" cy="822.90" r="2.4" fill="#3f71a5"/>
<line x1="320.85" y1="781.57" x2="320.85" y2="799.94" stroke="#e05858" stroke-width="1.1" />
<line x1="316.95" y1="781.57" x2="324.75" y2="781.57" stroke="#e05858" stroke-width="1.1" />
<line x1="316.95" y1="799.94" x2="324.75" y2="799.94" stroke="#e05858" stroke-width="1.1" />
<circle cx="320.85" cy="781.57" r="2.4" fill="#e05858"/>
<circle cx="320.85" cy="790.18" r="2.4" fill="#e05858"/>
<circle cx="320.85" cy="798.22" r="2.4" fill="#e05858"/>
<line x1="345.30" y1="811.42" x2="345.30" y2="818.88" stroke="#ecc860" stroke-width="1.1" />
<line x1="341.40" y1="811.42" x2="349.20" y2="811.42" stroke="#ecc860" stroke-width="1.1" />
<line x1="341.40" y1="818.88" x2="349.20" y2="818.88" stroke="#ecc860" stroke-width="1.1" />
<circle cx="345.30" cy="818.88" r="2.4" fill="#ecc860"/>
<circle cx="345.30" cy="814.29" r="2.4" fill="#ecc860"/>
<circle cx="351.30" cy="811.42" r="2.4" fill="#ecc860"/>
<path d="M295.70,774.60 V768.70 H320.80 V775.80 M320.80,771.80 H345.50 V775.80" fill="none" stroke="#1a1a1a" stroke-width="1.1"/>
<polygon points="308.2,763.2 308.7,764.1 309.7,764.2 308.9,764.9 309.1,765.8 308.2,765.4 307.4,765.8 307.6,764.9 306.8,764.2 307.8,764.1" fill="#1a1a1a" stroke="#1a1a1a" stroke-width="0.35" stroke-linejoin="round"/>
<polygon points="333.1,766.3 333.6,767.2 334.6,767.3 333.8,768.0 334.0,768.9 333.1,768.5 332.3,768.9 332.5,768.0 331.7,767.3 332.7,767.2" fill="#1a1a1a" stroke="#1a1a1a" stroke-width="0.35" stroke-linejoin="round"/>
<text x="320.00" y="752.40" font-size="10.7" text-anchor="middle" font-weight="bold" fill="#111" >CAL51</text>
<text transform="translate(259.80,822.40) rotate(-90)" font-size="9.8" text-anchor="middle" font-weight="bold" fill="#111" textLength="122.8" lengthAdjust="spacingAndGlyphs">Relative HSPA6 mRNA level</text>
<text x="63.60" y="902.20" font-size="13.2" text-anchor="middle" fill="#111" >-</text>
<text x="88.30" y="902.20" font-size="13.2" text-anchor="middle" fill="#111" >-</text>
<text x="112.90" y="902.20" font-size="13.2" text-anchor="middle" fill="#111" >+</text>
<text x="63.60" y="919.40" font-size="13.2" text-anchor="middle" fill="#111" >-</text>
<text x="88.30" y="919.40" font-size="13.2" text-anchor="middle" fill="#111" >+</text>
<text x="112.90" y="919.40" font-size="13.2" text-anchor="middle" fill="#111" >+</text>
<text x="178.20" y="902.20" font-size="13.2" text-anchor="middle" fill="#111" >-</text>
<text x="203.40" y="902.20" font-size="13.2" text-anchor="middle" fill="#111" >-</text>
<text x="227.50" y="902.20" font-size="13.2" text-anchor="middle" fill="#111" >+</text>
<text x="178.20" y="919.40" font-size="13.2" text-anchor="middle" fill="#111" >-</text>
<text x="203.40" y="919.40" font-size="13.2" text-anchor="middle" fill="#111" >+</text>
<text x="227.50" y="919.40" font-size="13.2" text-anchor="middle" fill="#111" >+</text>
<text x="296.30" y="902.20" font-size="13.2" text-anchor="middle" fill="#111" >-</text>
<text x="320.80" y="902.20" font-size="13.2" text-anchor="middle" fill="#111" >-</text>
<text x="344.90" y="902.20" font-size="13.2" text-anchor="middle" fill="#111" >+</text>
<text x="296.30" y="919.40" font-size="13.2" text-anchor="middle" fill="#111" >-</text>
<text x="320.80" y="919.40" font-size="13.2" text-anchor="middle" fill="#111" >+</text>
<text x="344.90" y="919.40" font-size="13.2" text-anchor="middle" fill="#111" >+</text>
<text x="45.60" y="903.40" font-size="11.8" text-anchor="end" fill="#111" >p300 KD</text>
<text x="45.60" y="918.20" font-size="11.8" text-anchor="end" fill="#111" >TRIM35</text>
<rect x="430.40" y="771.60" width="69.00" height="17.60" fill="#d8d8d8" />
<defs><linearGradient id="s43907790" x1="0" y1="0" x2="0" y2="1"><stop offset="0" stop-color="#a0a0a0"/><stop offset="1" stop-color="#bdbdbd"/></linearGradient></defs>
<rect x="439.0" y="779.0" width="13.0" height="10.0" fill="url(#s43907790)" filter="url(#b1)"/>
<defs><linearGradient id="s45857800" x1="0" y1="0" x2="0" y2="1"><stop offset="0" stop-color="#333"/><stop offset="1" stop-color="#9a9a9a"/></linearGradient></defs>
<rect x="458.5" y="780.0" width="14.5" height="9.0" fill="url(#s45857800)" filter="url(#b1)"/>
<rect x="458.5" y="779.5" width="14.5" height="3.6" rx="1.8" fill="#0a0a0a" filter="url(#bs)"/>
<defs><linearGradient id="s47907800" x1="0" y1="0" x2="0" y2="1"><stop offset="0" stop-color="#4a4a4a"/><stop offset="1" stop-color="#a5a5a5"/></linearGradient></defs>
<rect x="479.0" y="780.0" width="14.5" height="9.0" fill="url(#s47907800)" filter="url(#b1)"/>
<rect x="479.0" y="779.6" width="14.5" height="3.4" rx="1.7" fill="#1e1e1e" filter="url(#bs)"/>
<rect x="430.40" y="771.60" width="69.00" height="17.60" fill="none" stroke="#111" stroke-width="1.4"/>
<rect x="504.70" y="771.60" width="69.40" height="17.60" fill="#dcdcdc" />
<rect x="512.0" y="780.0" width="13.0" height="3.0" rx="1.5" fill="#7a7a7a" filter="url(#b1)"/>
<rect x="532.0" y="778.8" width="15.0" height="5.0" rx="2.5" fill="#151515" filter="url(#b1)"/>
<rect x="554.0" y="779.2" width="14.0" height="4.5" rx="2.2" fill="#2a2a2a" filter="url(#b1)"/>
<rect x="504.70" y="771.60" width="69.40" height="17.60" fill="none" stroke="#111" stroke-width="1.4"/>
<rect x="578.60" y="771.60" width="70.00" height="17.60" fill="#cbcbcb" />
<rect x="585.6" y="778.7" width="14.5" height="3.0" rx="1.5" fill="#3a3a3a" filter="url(#b1)"/>
<rect x="606.3" y="777.2" width="16.4" height="6.5" rx="3.2" fill="#000" filter="url(#b1)"/>
<rect x="628.9" y="778.1" width="14.8" height="4.8" rx="2.4" fill="#111" filter="url(#b1)"/>
<rect x="592.6" y="773.7" width="1.8" height="1.8" rx="0.9" fill="#111" filter="url(#bs)"/>
<rect x="578.60" y="771.60" width="70.00" height="17.60" fill="none" stroke="#111" stroke-width="1.4"/>
<rect x="430.40" y="801.40" width="69.00" height="19.40" fill="#dedede" />
<rect x="433.5" y="808.0" width="22.5" height="5.0" rx="2.5" fill="#111" filter="url(#b1)"/>
<rect x="456.0" y="806.8" width="20.5" height="7.0" rx="3.5" fill="#000" filter="url(#b1)"/>
<rect x="478.5" y="808.5" width="18.5" height="4.0" rx="2.0" fill="#2a2a2a" filter="url(#b1)"/>
<rect x="430.40" y="801.40" width="69.00" height="19.40" fill="none" stroke="#111" stroke-width="1.4"/>
<rect x="504.70" y="801.40" width="69.40" height="19.40" fill="#e0e0e0" />
<rect x="511.0" y="809.2" width="18.0" height="3.5" rx="1.8" fill="#333" filter="url(#b1)"/>
<rect x="530.0" y="807.5" width="19.0" height="6.0" rx="3.0" fill="#0a0a0a" filter="url(#b1)"/>
<rect x="550.0" y="808.8" width="20.0" height="4.0" rx="2.0" fill="#2e2e2e" filter="url(#b1)"/>
<rect x="504.70" y="801.40" width="69.40" height="19.40" fill="none" stroke="#111" stroke-width="1.4"/>
<rect x="578.60" y="801.40" width="70.00" height="19.40" fill="#e6e6e6" />
<rect x="585.0" y="809.6" width="18.0" height="3.0" rx="1.5" fill="#484848" filter="url(#b1)"/>
<rect x="606.0" y="808.3" width="19.0" height="5.0" rx="2.5" fill="#111" filter="url(#b1)"/>
<rect x="626.0" y="809.0" width="19.0" height="4.2" rx="2.1" fill="#1e1e1e" filter="url(#b1)"/>
<rect x="578.60" y="801.40" width="70.00" height="19.40" fill="none" stroke="#111" stroke-width="1.4"/>
<rect x="430.40" y="833.30" width="69.00" height="19.20" fill="#c2c2c2" />
<defs><linearGradient id="s43668410" x1="0" y1="0" x2="0" y2="1"><stop offset="0" stop-color="#3a3a3a"/><stop offset="1" stop-color="#9a9a9a"/></linearGradient></defs>
<rect x="436.6" y="841.0" width="13.4" height="11.0" fill="url(#s43668410)" filter="url(#b1)"/>
<rect x="436.6" y="841.0" width="13.4" height="2.6" rx="1.3" fill="#151515" filter="url(#bs)"/>
<defs><linearGradient id="s45908410" x1="0" y1="0" x2="0" y2="1"><stop offset="0" stop-color="#3a3a3a"/><stop offset="1" stop-color="#9a9a9a"/></linearGradient></defs>
<rect x="459.0" y="841.0" width="14.4" height="11.0" fill="url(#s45908410)" filter="url(#b1)"/>
<rect x="459.0" y="841.0" width="14.4" height="2.6" rx="1.3" fill="#151515" filter="url(#bs)"/>
<defs><linearGradient id="s48008420" x1="0" y1="0" x2="0" y2="1"><stop offset="0" stop-color="#b0b0b0"/><stop offset="1" stop-color="#bdbdbd"/></linearGradient></defs>
<rect x="480.0" y="842.0" width="14.0" height="10.0" fill="url(#s48008420)" filter="url(#b1)"/>
<rect x="430.40" y="833.30" width="69.00" height="19.20" fill="none" stroke="#111" stroke-width="1.4"/>
<rect x="504.70" y="833.30" width="69.40" height="19.20" fill="#c6c6c6" />
<defs><linearGradient id="s50968395" x1="0" y1="0" x2="0" y2="1"><stop offset="0" stop-color="#0a0a0a"/><stop offset="1" stop-color="#555"/></linearGradient></defs>
<rect x="509.6" y="839.5" width="14.5" height="12.5" fill="url(#s50968395)" filter="url(#b1)"/>
<defs><linearGradient id="s53128395" x1="0" y1="0" x2="0" y2="1"><stop offset="0" stop-color="#0a0a0a"/><stop offset="1" stop-color="#444"/></linearGradient></defs>
<rect x="531.2" y="839.5" width="15.1" height="12.5" fill="url(#s53128395)" filter="url(#b1)"/>
<defs><linearGradient id="s55388415" x1="0" y1="0" x2="0" y2="1"><stop offset="0" stop-color="#555"/><stop offset="1" stop-color="#9a9a9a"/></linearGradient></defs>
<rect x="553.8" y="841.5" width="14.1" height="10.5" fill="url(#s55388415)" filter="url(#b1)"/>
<rect x="553.8" y="841.4" width="14.1" height="2.2" rx="1.1" fill="#333" filter="url(#bs)"/>
<rect x="504.70" y="833.30" width="69.40" height="19.20" fill="none" stroke="#111" stroke-width="1.4"/>
<rect x="578.60" y="833.30" width="70.00" height="19.20" fill="#c2c2c2" />
<defs><linearGradient id="s58508415" x1="0" y1="0" x2="0" y2="1"><stop offset="0" stop-color="#8a8a8a"/><stop offset="1" stop-color="#b0b0b0"/></linearGradient></defs>
<rect x="585.0" y="841.5" width="15.0" height="10.5" fill="url(#s58508415)" filter="url(#b1)"/>
<rect x="585.0" y="841.2" width="15.0" height="2.2" rx="1.1" fill="#4a4a4a" filter="url(#bs)"/>
<defs><linearGradient id="s60608415" x1="0" y1="0" x2="0" y2="1"><stop offset="0" stop-color="#7a7a7a"/><stop offset="1" stop-color="#a5a5a5"/></linearGradient></defs>
<rect x="606.0" y="841.5" width="16.0" height="10.5" fill="url(#s60608415)" filter="url(#b1)"/>
<rect x="606.0" y="841.3" width="16.0" height="2.4" rx="1.2" fill="#333" filter="url(#bs)"/>
<rect x="618.0" y="841.5" width="4.0" height="4.0" rx="2.0" fill="#111" filter="url(#bs)"/>
<defs><linearGradient id="s62708430" x1="0" y1="0" x2="0" y2="1"><stop offset="0" stop-color="#b8b8b8"/><stop offset="1" stop-color="#c0c0c0"/></linearGradient></defs>
<rect x="627.0" y="843.0" width="16.0" height="9.0" fill="url(#s62708430)" filter="url(#b1)"/>
<rect x="578.60" y="833.30" width="70.00" height="19.20" fill="none" stroke="#111" stroke-width="1.4"/>
<defs><linearGradient id="g430864" x1="0" y1="0" x2="1" y2="0"><stop offset="0" stop-color="#f4f4f4"/><stop offset="1" stop-color="#e4e4e4"/></linearGradient></defs>
<rect x="430.40" y="864.70" width="69.00" height="19.50" fill="url(#g430864)" />
<rect x="458.1" y="875.0" width="16.3" height="6.5" rx="3.2" fill="#050505" filter="url(#b1)"/>
<rect x="477.5" y="874.7" width="17.5" height="7.0" rx="3.5" fill="#050505" filter="url(#b1)"/>
<rect x="430.40" y="864.70" width="69.00" height="19.50" fill="none" stroke="#111" stroke-width="1.4"/>
<defs><linearGradient id="g504864" x1="0" y1="0" x2="1" y2="0"><stop offset="0" stop-color="#f4f4f4"/><stop offset="1" stop-color="#e4e4e4"/></linearGradient></defs>
<rect x="504.70" y="864.70" width="69.40" height="19.50" fill="url(#g504864)" />
<rect x="531.2" y="873.6" width="17.8" height="6.0" rx="3.0" fill="#050505" filter="url(#b1)"/>
<rect x="552.0" y="873.6" width="18.0" height="6.0" rx="3.0" fill="#050505" filter="url(#b1)"/>
<rect x="504.70" y="864.70" width="69.40" height="19.50" fill="none" stroke="#111" stroke-width="1.4"/>
<defs><linearGradient id="g578864" x1="0" y1="0" x2="1" y2="0"><stop offset="0" stop-color="#f4f4f4"/><stop offset="1" stop-color="#e4e4e4"/></linearGradient></defs>
<rect x="578.60" y="864.70" width="70.00" height="19.50" fill="url(#g578864)" />
<rect x="609.4" y="874.1" width="14.0" height="4.6" rx="2.3" fill="#2a2a2a" filter="url(#b1)"/>
<rect x="628.1" y="874.2" width="14.8" height="4.4" rx="2.2" fill="#333" filter="url(#b1)"/>
<rect x="578.60" y="864.70" width="70.00" height="19.50" fill="none" stroke="#111" stroke-width="1.4"/>
<rect x="430.40" y="887.50" width="69.00" height="19.70" fill="#e0e0e0" />
<rect x="436.0" y="894.7" width="21.0" height="6.0" rx="3.0" fill="#000" filter="url(#b1)"/>
<rect x="456.0" y="894.7" width="21.0" height="6.0" rx="3.0" fill="#000" filter="url(#b1)"/>
<rect x="476.0" y="894.5" width="21.0" height="6.5" rx="3.2" fill="#000" filter="url(#b1)"/>
<rect x="430.40" y="887.50" width="69.00" height="19.70" fill="none" stroke="#111" stroke-width="1.4"/>
<rect x="504.70" y="887.50" width="69.40" height="19.70" fill="#e0e0e0" />
<rect x="511.5" y="894.2" width="20.5" height="5.5" rx="2.8" fill="#000" filter="url(#b1)"/>
<rect x="531.0" y="894.2" width="21.0" height="5.5" rx="2.8" fill="#000" filter="url(#b1)"/>
<rect x="551.0" y="894.2" width="20.0" height="5.5" rx="2.8" fill="#000" filter="url(#b1)"/>
<rect x="504.70" y="887.50" width="69.40" height="19.70" fill="none" stroke="#111" stroke-width="1.4"/>
<rect x="578.60" y="887.50" width="70.00" height="19.70" fill="#e0e0e0" />
<rect x="582.2" y="895.8" width="20.8" height="5.0" rx="2.5" fill="#050505" filter="url(#b1)"/>
<rect x="602.0" y="895.1" width="21.0" height="5.0" rx="2.5" fill="#050505" filter="url(#b1)"/>
<rect x="622.0" y="894.3" width="21.7" height="5.0" rx="2.5" fill="#050505" filter="url(#b1)"/>
<rect x="578.60" y="887.50" width="70.00" height="19.70" fill="none" stroke="#111" stroke-width="1.4"/>
<text x="442.40" y="798.80" font-size="8.4" text-anchor="middle" fill="#222" >1.00</text>
<text x="465.10" y="798.80" font-size="8.4" text-anchor="middle" fill="#222" >2.56</text>
<text x="487.50" y="798.80" font-size="8.4" text-anchor="middle" fill="#222" >1.80</text>
<text x="517.30" y="798.80" font-size="8.4" text-anchor="middle" fill="#222" >1.00</text>
<text x="539.80" y="798.80" font-size="8.4" text-anchor="middle" fill="#222" >2.11</text>
<text x="562.20" y="798.80" font-size="8.4" text-anchor="middle" fill="#222" >1.53</text>
<text x="592.30" y="798.80" font-size="8.4" text-anchor="middle" fill="#222" >1.00</text>
<text x="614.70" y="798.80" font-size="8.4" text-anchor="middle" fill="#222" >2.88</text>
<text x="636.90" y="798.80" font-size="8.4" text-anchor="middle" fill="#222" >2.01</text>
<text x="442.40" y="829.60" font-size="8.4" text-anchor="middle" fill="#222" >1.00</text>
<text x="465.10" y="829.60" font-size="8.4" text-anchor="middle" fill="#222" >1.47</text>
<text x="487.50" y="829.60" font-size="8.4" text-anchor="middle" fill="#222" >0.90</text>
<text x="517.30" y="829.60" font-size="8.4" text-anchor="middle" fill="#222" >1.00</text>
<text x="539.80" y="829.60" font-size="8.4" text-anchor="middle" fill="#222" >1.89</text>
<text x="562.20" y="829.60" font-size="8.4" text-anchor="middle" fill="#222" >1.22</text>
<text x="592.30" y="829.60" font-size="8.4" text-anchor="middle" fill="#222" >1.00</text>
<text x="614.70" y="829.60" font-size="8.4" text-anchor="middle" fill="#222" >1.85</text>
<text x="636.90" y="829.60" font-size="8.4" text-anchor="middle" fill="#222" >1.47</text>
<text x="442.40" y="861.90" font-size="8.4" text-anchor="middle" fill="#222" >1.00</text>
<text x="465.10" y="861.90" font-size="8.4" text-anchor="middle" fill="#222" >1.09</text>
<text x="487.50" y="861.90" font-size="8.4" text-anchor="middle" fill="#222" >0.29</text>
<text x="517.30" y="861.90" font-size="8.4" text-anchor="middle" fill="#222" >1.00</text>
<text x="539.80" y="861.90" font-size="8.4" text-anchor="middle" fill="#222" >1.06</text>
<text x="562.20" y="861.90" font-size="8.4" text-anchor="middle" fill="#222" >0.59</text>
<text x="592.30" y="861.90" font-size="8.4" text-anchor="middle" fill="#222" >1.00</text>
<text x="614.70" y="861.90" font-size="8.4" text-anchor="middle" fill="#222" >1.11</text>
<text x="636.90" y="861.90" font-size="8.4" text-anchor="middle" fill="#222" >0.54</text>
<text x="425.60" y="785.00" font-size="13.2" text-anchor="end" fill="#111" textLength="48" lengthAdjust="spacingAndGlyphs">HSPA6</text>
<text x="425.60" y="816.00" font-size="12.6" text-anchor="end" fill="#111" textLength="54" lengthAdjust="spacingAndGlyphs">H3K27ac</text>
<text x="425.40" y="847.20" font-size="15" text-anchor="end" fill="#111" >p300</text>
<text x="425.20" y="871.20" font-size="11.8" text-anchor="end" fill="#111" >TRIM35-</text>
<text x="425.60" y="883.40" font-size="12.3" text-anchor="end" fill="#111" >Flag</text>
<text x="425.60" y="902.80" font-size="13.8" text-anchor="end" fill="#111" textLength="51" lengthAdjust="spacingAndGlyphs">GAPDH</text>
<text x="653.60" y="784.90" font-size="10.2" text-anchor="start" fill="#111" >70kDa</text>
<line x1="649.30" y1="780.90" x2="652.30" y2="780.90" stroke="#111" stroke-width="0.9" />
<text x="653.60" y="809.70" font-size="10.2" text-anchor="start" fill="#111" >20kDa</text>
<line x1="649.30" y1="806.00" x2="652.30" y2="806.00" stroke="#111" stroke-width="0.9" />
<text x="652.40" y="854.80" font-size="9.5" text-anchor="start" fill="#111" >250kDa</text>
<line x1="649.30" y1="852.30" x2="652.30" y2="852.30" stroke="#111" stroke-width="0.9" />
<text x="653.60" y="875.10" font-size="10.2" text-anchor="start" fill="#111" >70kDa</text>
<line x1="649.30" y1="871.50" x2="652.30" y2="871.50" stroke="#111" stroke-width="0.9" />
<text x="653.60" y="900.70" font-size="10.2" text-anchor="start" fill="#111" >35kDa</text>
<line x1="649.30" y1="896.90" x2="652.30" y2="896.90" stroke="#111" stroke-width="0.9" />
<text x="468.00" y="924.30" font-size="11.8" text-anchor="middle" fill="#111" >MDA-MB-231</text>
<text x="540.40" y="924.30" font-size="11.8" text-anchor="middle" fill="#111" >MCF7</text>
<text x="610.00" y="924.30" font-size="12.2" text-anchor="middle" fill="#111" >CAL51</text>
<text x="429.50" y="748.50" font-size="12.5" text-anchor="end" fill="#111" >p300 KD</text>
<text x="429.50" y="763.30" font-size="12.5" text-anchor="end" fill="#111" >TRIM35</text>
<text x="446.80" y="745.20" font-size="11" text-anchor="middle" fill="#111" >-</text>
<text x="467.20" y="745.20" font-size="11" text-anchor="middle" fill="#111" >-</text>
<text x="486.20" y="745.20" font-size="11" text-anchor="middle" fill="#111" >+</text>
<text x="446.80" y="760.80" font-size="11" text-anchor="middle" fill="#111" >-</text>
<text x="467.20" y="760.80" font-size="11" text-anchor="middle" fill="#111" >+</text>
<text x="486.20" y="760.80" font-size="11" text-anchor="middle" fill="#111" >+</text>
<text x="519.40" y="745.20" font-size="11" text-anchor="middle" fill="#111" >-</text>
<text x="539.80" y="745.20" font-size="11" text-anchor="middle" fill="#111" >-</text>
<text x="559.20" y="745.20" font-size="11" text-anchor="middle" fill="#111" >+</text>
<text x="519.40" y="760.80" font-size="11" text-anchor="middle" fill="#111" >-</text>
<text x="539.80" y="760.80" font-size="11" text-anchor="middle" fill="#111" >+</text>
<text x="559.20" y="760.80" font-size="11" text-anchor="middle" fill="#111" >+</text>
<text x="593.80" y="745.20" font-size="11" text-anchor="middle" fill="#111" >-</text>
<text x="614.30" y="745.20" font-size="11" text-anchor="middle" fill="#111" >-</text>
<text x="634.00" y="745.20" font-size="11" text-anchor="middle" fill="#111" >+</text>
<text x="593.80" y="760.80" font-size="11" text-anchor="middle" fill="#111" >-</text>
<text x="614.30" y="760.80" font-size="11" text-anchor="middle" fill="#111" >+</text>
<text x="634.00" y="760.80" font-size="11" text-anchor="middle" fill="#111" >+</text>
<text x="18.00" y="15.80" font-size="20.3" text-anchor="start" fill="#000" >A</text>
<text x="18.30" y="298.80" font-size="20.3" text-anchor="start" fill="#000" >B</text>
<text x="341.90" y="15.60" font-size="20.3" text-anchor="start" fill="#000" >C</text>
<text x="17.30" y="378.60" font-size="20.3" text-anchor="start" fill="#000" >D</text>
<text x="275.50" y="378.60" font-size="20.3" text-anchor="start" fill="#000" >E</text>
<text x="507.80" y="378.60" font-size="20.3" text-anchor="start" fill="#000" >F</text>
<text x="16.80" y="743.60" font-size="20.3" text-anchor="start" fill="#000" >G</text>
<text x="360.30" y="743.70" font-size="20.3" text-anchor="start" fill="#000" >H</text>
</svg></body></html>
